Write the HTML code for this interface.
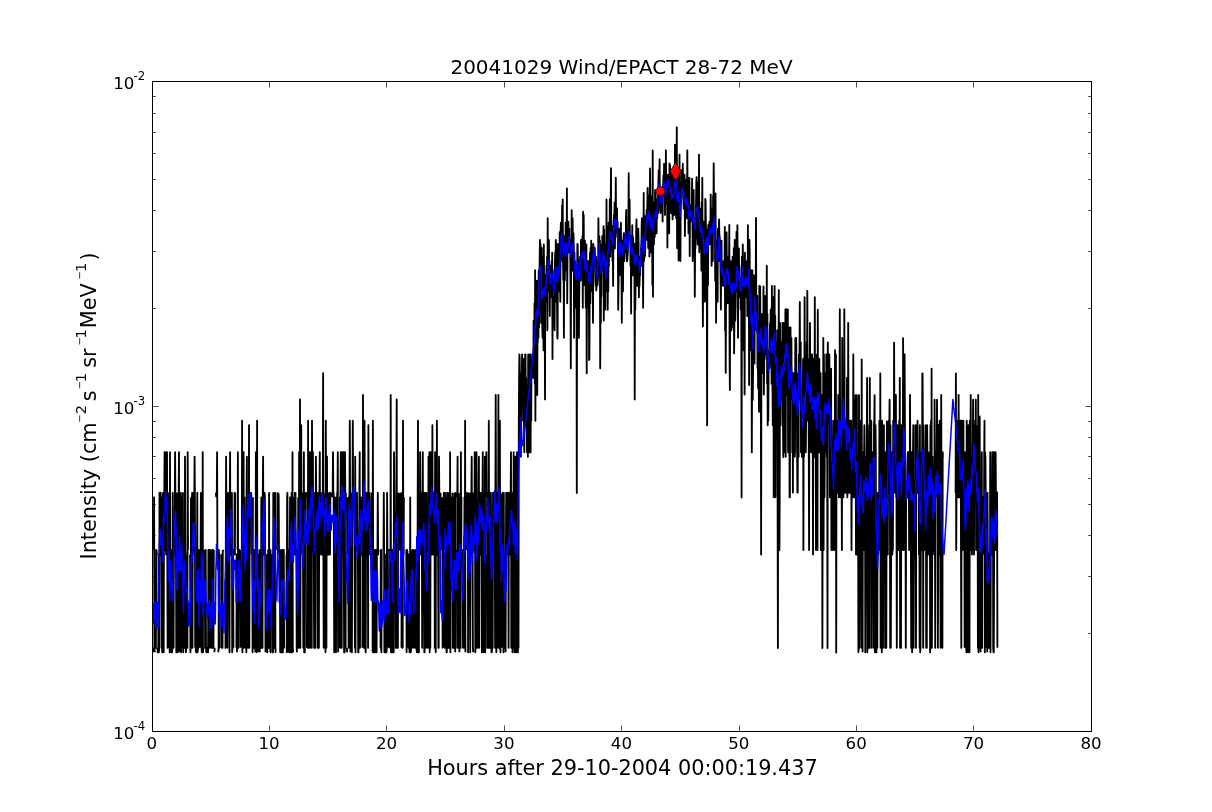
<!DOCTYPE html>
<html><head><meta charset="utf-8"><title>20041029 Wind/EPACT 28-72 MeV</title>
<style>html,body{margin:0;padding:0;background:#fff;}svg{display:block;will-change:transform;font-family:"DejaVu Sans","Liberation Sans",sans-serif;}</style></head><body>
<svg width="1212" height="812" viewBox="0 0 1212 812">
<rect width="1212" height="812" fill="#fff"/>
<clipPath id="c"><rect x="152" y="81" width="940" height="651"/></clipPath>
<g clip-path="url(#c)" fill="none" stroke-linejoin="round" stroke-linecap="butt">
<path d="M152.0 652.3L152.3 652.3L152.6 647.8L152.9 647.8L153.2 652.3M153.8 550.0L154.1 497.3L154.4 647.8L154.7 652.3M155.3 647.8L155.6 647.8L155.9 647.8L156.2 550.0L156.5 550.0L156.8 554.5M157.4 647.8L157.7 652.3L158.0 652.3L158.3 647.8L158.6 554.5L158.9 652.3L159.2 647.8L159.5 492.8L159.8 550.0L160.1 492.8L160.4 554.5L160.7 492.8L161.0 554.5L161.3 497.3L161.6 647.8L161.9 647.8L162.2 652.3L162.5 550.0L162.8 497.3L163.1 492.8L163.4 647.8L163.7 652.3L164.0 492.8L164.3 492.8L164.6 452.2L164.9 550.0L165.2 550.0L165.5 550.0L165.8 452.2L166.1 554.5L166.4 492.8L166.7 492.8L167.0 452.2L167.3 554.5L167.6 647.8L167.9 497.3L168.2 492.8M169.1 647.8L169.4 492.8L169.7 652.3L170.0 452.2L170.3 647.8L170.6 550.0M171.2 550.0L171.5 652.3L171.8 550.0L172.1 652.3L172.4 647.8L172.7 492.8L173.0 647.8L173.3 647.8L173.6 647.8L173.9 550.0L174.2 554.5L174.5 554.5L174.8 497.3L175.1 452.2L175.4 497.3L175.7 492.8L176.0 554.5L176.3 652.3L176.6 492.8M177.2 647.8L177.5 647.8L177.8 652.3L178.1 647.8L178.4 492.8L178.7 497.3L179.0 452.2L179.3 652.3M179.9 647.8L180.2 647.8L180.5 492.8L180.8 492.8L181.1 652.3L181.4 550.0L181.7 497.3L182.0 550.0M182.6 647.8L182.9 492.8L183.2 652.3L183.5 550.0M184.1 647.8L184.4 550.0L184.7 647.8L185.0 456.7L185.3 550.0L185.6 554.5L185.9 652.3L186.2 647.8M186.8 647.8L187.1 647.8L187.4 647.8L187.7 452.2L188.0 550.0L188.3 550.0M190.1 554.5L190.4 652.3L190.7 647.8L191.0 497.3M191.6 550.0L191.9 497.3L192.2 492.8L192.5 647.8L192.8 492.8M193.4 554.5L193.7 550.0L194.0 492.8L194.3 492.8L194.6 456.7L194.9 497.3L195.2 647.8M195.8 652.3L196.1 554.5L196.4 652.3L196.7 652.3L197.0 550.0L197.3 492.8L197.6 652.3L197.9 647.8L198.2 550.0L198.5 647.8L198.8 550.0L199.1 554.5L199.4 647.8M200.3 647.8L200.6 554.5L200.9 492.8L201.2 492.8L201.5 647.8L201.8 652.3L202.1 652.3L202.4 647.8L202.7 452.2L203.0 652.3L203.3 647.8L203.6 647.8M204.2 550.0L204.5 554.5L204.8 554.5L205.1 647.8L205.4 550.0L205.7 550.0L206.0 647.8L206.3 652.3L206.6 647.8L206.9 647.8L207.2 647.8L207.5 647.8L207.8 652.3L208.1 652.3L208.4 550.0L208.7 647.8L209.0 550.0L209.3 647.8L209.6 647.8L209.9 647.8L210.2 550.0L210.5 647.8M211.4 550.0L211.7 647.8L212.0 647.8L212.3 550.0L212.6 554.5L212.9 647.8L213.2 550.0L213.5 647.8L213.8 550.0M214.4 652.3L214.7 647.8M215.9 492.8L216.2 497.3M216.8 492.8L217.1 452.2L217.4 554.5L217.7 550.0M218.3 652.3L218.6 647.8L218.9 550.0L219.2 647.8L219.5 554.5L219.8 647.8L220.1 647.8M221.6 554.5L221.9 647.8L222.2 554.5L222.5 647.8L222.8 550.0M223.7 550.0L224.0 550.0M224.6 647.8L224.9 647.8L225.2 647.8L225.5 647.8L225.8 550.0L226.1 456.7L226.5 554.5L226.8 492.8L227.1 550.0L227.4 647.8L227.7 492.8L228.0 554.5L228.3 550.0L228.6 492.8M229.2 554.5L229.5 652.3L229.8 492.8L230.1 452.2L230.4 554.5L230.7 554.5L231.0 554.5L231.3 492.8L231.6 492.8L231.9 492.8L232.2 652.3L232.5 647.8L232.8 647.8L233.1 550.0L233.4 647.8M234.0 550.0L234.3 550.0L234.6 492.8L234.9 554.5L235.2 492.8M236.4 647.8L236.7 554.5L237.0 652.3M237.6 550.0L237.9 452.2L238.2 647.8L238.5 647.8L238.8 550.0L239.1 550.0L239.4 550.0L239.7 554.5M240.3 550.0L240.6 647.8M241.8 550.0L242.1 420.7L242.4 652.3L242.7 554.5L243.0 550.0L243.3 497.3L243.6 452.2L243.9 647.8L244.2 497.3L244.5 497.3L244.8 550.0M245.4 550.0L245.7 647.8L246.0 550.0L246.3 652.3L246.6 492.8L246.9 456.7L247.2 647.8L247.5 497.3L247.8 492.8L248.1 497.3L248.4 492.8L248.7 647.8L249.0 425.2L249.3 647.8L249.6 554.5L249.9 492.8L250.2 492.8L250.5 497.3L250.8 492.8L251.1 492.8L251.4 497.3L251.7 554.5M252.3 554.5L252.6 652.3L252.9 497.3M253.5 647.8L253.8 550.0L254.1 647.8L254.4 647.8L254.7 554.5M255.3 652.3L255.6 554.5L255.9 452.2L256.2 647.8L256.5 652.3L256.8 554.5L257.1 420.7L257.4 647.8L257.7 554.5L258.0 652.3M259.2 550.0L259.5 550.0L259.8 652.3M260.4 550.0L260.7 647.8L261.0 647.8L261.3 497.3L261.6 647.8L261.9 554.5L262.2 550.0L262.5 647.8L262.8 492.8L263.1 456.7L263.4 554.5L263.7 492.8L264.0 554.5L264.3 497.3L264.6 492.8L264.9 497.3L265.2 554.5L265.5 652.3M266.1 652.3L266.4 554.5M267.0 647.8L267.3 652.3L267.6 554.5L267.9 647.8L268.2 550.0L268.5 647.8L268.8 647.8L269.1 492.8L269.4 647.8M270.0 652.3L270.3 652.3L270.6 550.0L270.9 550.0L271.2 550.0M272.1 554.5L272.4 652.3L272.7 554.5L273.0 652.3L273.3 492.8L273.6 497.3L273.9 497.3L274.2 647.8L274.5 492.8L274.8 497.3L275.1 492.8L275.4 647.8L275.7 652.3L276.0 652.3M277.2 550.0L277.5 492.8L277.8 492.8M278.4 492.8L278.7 497.3L279.0 554.5M279.9 550.0L280.2 652.3L280.5 647.8L280.8 550.0L281.1 554.5L281.4 652.3L281.7 652.3L282.0 647.8L282.3 554.5L282.6 550.0L282.9 652.3L283.2 550.0L283.5 550.0L283.8 550.0L284.1 647.8L284.4 647.8M285.0 647.8L285.3 647.8M286.5 554.5L286.8 652.3L287.1 497.3L287.4 492.8L287.7 550.0M288.3 652.3L288.6 550.0L288.9 647.8L289.2 652.3L289.5 550.0L289.8 554.5L290.1 497.3L290.4 550.0L290.7 554.5L291.0 652.3L291.3 550.0L291.6 492.8L291.9 492.8L292.2 652.3L292.5 452.2L292.8 647.8L293.1 652.3M293.7 497.3L294.0 554.5L294.3 550.0L294.6 554.5L294.9 492.8L295.2 492.8L295.5 492.8L295.8 554.5L296.1 550.0L296.4 554.5L296.7 647.8L297.0 652.3M297.6 550.0L297.9 647.8L298.2 497.3M298.8 647.8L299.1 452.2L299.4 647.8L299.7 554.5L300.0 399.5L300.3 647.8L300.6 554.5L300.9 550.0L301.2 425.2L301.5 550.0M302.4 492.8L302.7 550.0L303.0 550.0L303.3 647.8L303.6 550.0L303.9 452.2L304.2 652.3L304.5 497.3L304.8 652.3L305.1 550.0L305.4 492.8L305.7 492.8L306.0 497.3L306.3 492.8M306.9 647.8L307.2 554.5L307.5 492.8L307.8 647.8L308.1 420.7L308.4 647.8L308.7 554.5L309.0 497.3L309.3 550.0L309.6 452.2L309.9 647.8L310.2 554.5L310.5 497.3L310.8 550.0L311.1 452.2L311.4 497.3L311.7 647.8L312.0 420.7L312.3 497.3L312.6 550.0L312.9 452.2L313.2 550.0L313.5 497.3L313.8 554.5L314.1 647.8L314.4 647.8L314.7 550.0L315.0 492.8L315.3 647.8L315.6 554.5L315.9 456.7L316.2 497.3L316.5 497.3L316.8 492.8M317.4 492.8L317.7 647.8L318.0 492.8L318.3 492.8L318.6 492.8L318.9 647.8L319.2 492.8L319.5 492.8L319.8 452.2L320.1 550.0L320.4 492.8L320.7 492.8L321.0 554.5L321.3 550.0L321.6 550.0L321.9 554.5L322.2 554.5L322.5 497.3L322.8 492.8L323.1 373.2L323.4 550.0L323.7 647.8L324.0 550.0L324.3 554.5M324.9 492.8L325.2 492.8L325.5 652.3L325.8 420.7L326.1 497.3L326.4 647.8L326.7 492.8L327.0 456.7L327.3 550.0M327.9 492.8L328.2 554.5L328.5 497.3L328.8 554.5L329.1 497.3L329.4 492.8L329.7 554.5L330.0 554.5L330.3 497.3L330.6 492.8L330.9 492.8L331.2 492.8M331.8 497.3L332.1 492.8M332.7 492.8L333.0 452.2L333.3 492.8L333.6 492.8L333.9 550.0L334.2 652.3L334.5 550.0L334.8 497.3L335.1 550.0L335.4 554.5L335.7 550.0L336.0 652.3L336.3 550.0L336.6 497.3L336.9 554.5L337.2 492.8L337.5 492.8L337.8 452.2L338.1 652.3M339.6 647.8L339.9 497.3L340.2 647.8L340.5 492.8L340.8 452.2L341.1 497.3L341.4 452.2L341.7 647.8L342.0 452.2L342.3 550.0L342.6 554.5L342.9 452.2L343.2 497.3L343.5 452.2L343.8 550.0L344.1 652.3L344.4 452.2L344.7 652.3L345.0 452.2L345.3 497.3L345.6 647.8L345.9 492.8L346.2 492.8M346.8 647.8L347.1 652.3M347.7 497.3L348.0 554.5L348.3 554.5L348.6 647.8L348.9 550.0L349.2 497.3L349.5 492.8L349.8 420.7L350.1 497.3L350.4 652.3M351.0 492.8L351.3 554.5L351.6 497.3L351.9 652.3L352.2 550.0L352.5 497.3L352.8 420.7L353.1 492.8L353.4 492.8L353.7 492.8L354.0 492.8L354.3 497.3L354.6 554.5L354.9 647.8L355.2 456.7L355.5 652.3L355.8 554.5M356.4 550.0L356.7 492.8L357.0 492.8L357.3 550.0L357.6 550.0L357.9 550.0L358.2 652.3L358.5 652.3L358.8 550.0L359.1 550.0L359.4 492.8L359.7 452.2L360.0 647.8L360.3 550.0L360.6 497.3L360.9 497.3L361.2 550.0L361.5 554.5L361.8 497.3M362.4 647.8L362.7 550.0L363.0 395.0L363.3 550.0L363.6 492.8L363.9 647.8L364.2 492.8L364.5 420.7L364.8 497.3L365.1 497.3L365.4 647.8L365.7 652.3L366.0 550.0L366.3 550.0L366.6 492.8L366.9 554.5L367.2 497.3L367.5 497.3L367.8 492.8L368.1 647.8L368.4 425.2L368.7 554.5L369.0 554.5L369.3 492.8L369.6 497.3L369.9 550.0M370.5 492.8L370.8 492.8M371.4 550.0L371.7 492.8M372.6 652.3L372.9 420.7L373.2 652.3L373.5 647.8L373.8 652.3L374.1 550.0L374.4 647.8L374.8 647.8L375.1 652.3L375.4 554.5L375.7 550.0L376.0 647.8L376.3 550.0L376.6 652.3L376.9 554.5M377.5 550.0L377.8 492.8L378.1 554.5L378.4 550.0M380.5 647.8L380.8 550.0L381.1 647.8L381.4 652.3L381.7 550.0L382.0 550.0M383.5 550.0L383.8 492.8L384.1 550.0L384.4 652.3L384.7 647.8L385.0 554.5L385.3 652.3L385.6 647.8M386.2 647.8L386.5 652.3L386.8 647.8L387.1 492.8L387.4 550.0L387.7 647.8M388.3 550.0L388.6 550.0M389.2 647.8L389.5 550.0L389.8 554.5L390.1 647.8L390.4 647.8L390.7 395.0L391.0 652.3L391.3 554.5L391.6 647.8L391.9 647.8L392.2 652.3L392.5 550.0L392.8 647.8L393.1 652.3L393.4 550.0L393.7 652.3L394.0 452.2L394.3 492.8L394.6 550.0L394.9 550.0M395.5 550.0L395.8 647.8L396.1 550.0L396.4 492.8L396.7 399.5L397.0 647.8L397.3 497.3L397.6 550.0L397.9 647.8L398.2 492.8M399.7 492.8L400.0 550.0L400.3 550.0L400.6 492.8M401.5 647.8L401.8 492.8L402.1 492.8L402.4 647.8L402.7 647.8L403.0 420.7L403.3 550.0L403.6 554.5L403.9 497.3M405.7 550.0L406.0 550.0L406.3 550.0L406.6 652.3L406.9 554.5L407.2 550.0L407.5 554.5M408.1 647.8L408.4 554.5L408.7 647.8L409.0 647.8L409.3 647.8L409.6 652.3L409.9 647.8L410.2 497.3L410.5 647.8L410.8 652.3L411.1 647.8L411.4 647.8L411.7 554.5L412.0 554.5L412.3 550.0L412.6 550.0L412.9 647.8L413.2 550.0L413.5 554.5L413.8 647.8M414.7 550.0L415.0 647.8L415.3 550.0L415.6 554.5L415.9 550.0L416.2 550.0L416.5 647.8L416.8 652.3L417.1 550.0L417.4 647.8L417.7 497.3L418.0 420.7L418.3 652.3L418.6 652.3L418.9 652.3L419.2 492.8M419.8 554.5L420.1 452.2L420.4 492.8L420.7 554.5L421.0 492.8L421.3 554.5M421.9 550.0L422.2 647.8L422.5 554.5L422.8 452.2L423.1 550.0L423.4 497.3L423.7 492.8L424.0 550.0L424.3 652.3L424.6 652.3L424.9 492.8L425.2 647.8L425.5 550.0L425.8 647.8L426.1 647.8L426.4 492.8L426.7 554.5L427.0 647.8M427.6 554.5L427.9 647.8L428.2 550.0L428.5 456.7L428.8 554.5L429.1 554.5L429.4 452.2L429.7 652.3L430.0 492.8L430.3 647.8L430.6 492.8L430.9 452.2L431.2 492.8L431.5 492.8L431.8 554.5L432.1 550.0L432.4 425.2L432.7 550.0L433.0 492.8L433.3 554.5L433.6 550.0L433.9 492.8L434.2 550.0L434.5 497.3L434.8 647.8L435.1 452.2L435.4 497.3L435.7 652.3L436.0 492.8L436.3 497.3L436.6 554.5L436.9 420.7L437.2 554.5L437.5 497.3L437.8 550.0L438.1 550.0L438.4 647.8L438.7 647.8L439.0 456.7L439.3 492.8L439.6 550.0L439.9 550.0M440.5 492.8L440.8 550.0L441.1 550.0M442.3 497.3L442.6 647.8L442.9 647.8M443.5 647.8L443.8 492.8L444.1 550.0L444.4 492.8L444.7 647.8L445.0 492.8L445.3 647.8L445.6 550.0L445.9 554.5L446.2 497.3L446.5 652.3L446.8 652.3L447.1 492.8L447.4 492.8L447.7 492.8L448.0 647.8L448.3 554.5L448.6 647.8L448.9 492.8L449.2 554.5L449.5 492.8L449.8 647.8L450.1 452.2L450.4 652.3L450.7 550.0L451.0 497.3L451.3 550.0M452.5 492.8L452.8 647.8L453.1 550.0L453.4 647.8L453.7 497.3L454.0 647.8L454.3 550.0L454.6 492.8M455.2 652.3L455.5 492.8L455.8 647.8L456.1 550.0M457.3 497.3L457.6 456.7L457.9 647.8L458.2 647.8L458.5 550.0L458.8 492.8M459.4 652.3L459.7 550.0L460.0 497.3L460.3 550.0L460.6 647.8L460.9 452.2L461.2 554.5L461.5 497.3M462.4 550.0L462.7 550.0L463.0 647.8L463.3 647.8L463.6 550.0L463.9 550.0L464.2 550.0L464.5 497.3L464.8 647.8L465.1 420.7L465.4 652.3M466.0 497.3L466.3 492.8L466.6 497.3L466.9 550.0M467.5 492.8L467.8 492.8L468.1 652.3L468.4 554.5L468.7 492.8M469.6 492.8L469.9 497.3L470.2 652.3L470.5 554.5L470.8 497.3M471.4 497.3L471.7 456.7L472.0 554.5L472.3 492.8L472.6 550.0L472.9 647.8L473.2 652.3M473.8 492.8L474.1 497.3L474.4 550.0L474.7 452.2L475.0 492.8L475.3 652.3L475.6 647.8L475.9 647.8L476.2 492.8L476.5 452.2L476.8 550.0L477.1 554.5L477.4 647.8L477.7 647.8L478.0 550.0L478.3 550.0L478.6 492.8L478.9 456.7L479.2 647.8L479.5 492.8L479.8 492.8L480.1 550.0L480.4 492.8L480.7 492.8L481.0 554.5L481.3 554.5L481.6 550.0L481.9 652.3L482.2 492.8L482.5 492.8L482.8 452.2L483.1 550.0L483.4 652.3L483.7 497.3L484.0 492.8L484.3 647.8L484.6 647.8L484.9 456.7L485.2 652.3L485.5 554.5M486.1 497.3L486.4 452.2L486.7 492.8L487.0 492.8L487.3 647.8L487.6 492.8L487.9 497.3L488.2 550.0L488.5 647.8L488.8 420.7L489.1 550.0L489.4 647.8L489.7 497.3L490.0 554.5L490.3 492.8L490.6 647.8L490.9 492.8L491.2 550.0L491.5 652.3L491.8 652.3L492.1 647.8L492.4 647.8L492.7 647.8L493.0 492.8L493.3 492.8L493.6 492.8L493.9 492.8L494.2 550.0L494.5 492.8L494.8 550.0L495.1 647.8L495.4 492.8L495.7 395.0L496.0 497.3L496.3 652.3L496.6 647.8L496.9 647.8L497.2 492.8L497.5 497.3L497.8 497.3L498.1 554.5L498.4 395.0L498.7 647.8L499.0 497.3L499.3 647.8L499.6 492.8L499.9 420.7L500.2 647.8L500.5 652.3L500.8 492.8M502.0 647.8L502.3 554.5L502.6 497.3L502.9 492.8L503.2 550.0L503.5 652.3L503.8 492.8L504.1 647.8L504.4 647.8L504.7 647.8L505.0 554.5M505.6 652.3L505.9 550.0L506.2 492.8L506.5 554.5L506.8 554.5M507.4 550.0L507.7 492.8L508.0 550.0L508.3 554.5L508.6 647.8L508.9 497.3L509.2 492.8L509.5 554.5M510.1 497.3L510.4 554.5L510.7 492.8L511.0 452.2L511.3 647.8L511.6 497.3L511.9 492.8L512.2 497.3L512.5 652.3L512.8 497.3L513.1 647.8L513.4 550.0L513.7 452.2L514.0 647.8L514.3 550.0L514.6 652.3L514.9 492.8L515.2 647.8L515.5 456.7L515.8 492.8L516.1 652.3L516.4 652.3L516.7 647.8L517.0 452.2L517.3 550.0L517.6 550.0L517.9 652.3L518.2 492.8L518.5 647.8L518.8 425.2L519.1 377.8L519.4 354.4L519.7 358.9L520.0 420.7L520.3 373.2L520.6 420.7L520.9 456.7L521.2 377.8L521.5 395.0L521.8 373.2L522.1 354.4L522.4 377.8L522.7 373.2L523.1 420.7L523.4 358.9L523.7 395.0L524.0 420.7L524.3 452.2L524.6 395.0L524.9 377.8L525.2 354.4L525.5 354.4L525.8 425.2L526.1 377.8L526.4 399.5L526.7 395.0L527.0 452.2L527.3 452.2L527.6 399.5L527.9 456.7L528.2 354.4L528.5 395.0L528.8 452.2L529.1 452.2L529.4 452.2L529.7 425.2L530.0 354.4L530.3 354.4L530.6 452.2L530.9 354.4L531.2 420.7L531.5 358.9L531.8 358.9L532.1 358.9L532.4 373.2L532.7 373.2L533.0 354.4L533.3 377.8L533.6 320.6L533.9 368.0L534.2 350.4L534.5 303.2L534.8 383.7L535.1 270.2L535.4 420.7L535.7 316.0L536.0 285.1L536.3 377.8L536.6 291.4L536.9 280.6L537.2 395.0L537.5 330.2L537.8 342.3L538.1 297.2L538.4 337.8L538.7 270.5L539.0 327.4L539.3 280.6L539.6 265.6L539.9 240.0L540.2 252.6L540.5 244.0L540.8 285.9L541.1 322.9L541.4 285.9L541.7 248.0L542.0 291.4L542.3 327.4L542.6 337.8L542.9 303.2L543.2 256.8L543.5 350.4L543.8 244.5L544.1 280.6L544.4 322.9L544.7 303.2L545.0 399.4L545.3 275.4L545.6 291.4L545.9 291.4L546.2 285.9L546.5 265.7L546.8 301.7L547.1 256.6L547.4 330.2L547.7 218.2L548.0 290.4L548.3 256.6L548.6 261.1L548.9 240.0L549.2 290.4L549.5 280.6L549.8 316.0L550.1 265.7L550.4 275.0L550.7 280.0L551.0 275.4L551.3 297.2L551.6 261.1L551.9 275.4L552.2 252.6L552.5 359.0L552.8 270.5L553.1 309.5L553.4 280.6L553.7 280.6L554.0 296.0L554.3 297.2L554.6 330.2L554.9 265.7L555.2 252.3L555.5 280.6L555.8 240.0L556.1 244.5L556.4 301.7L556.7 290.4L557.0 297.2L557.3 337.8L557.6 338.6L557.9 244.0L558.2 275.4L558.5 270.2L558.8 285.1L559.1 291.4L559.4 275.4L559.7 232.3L560.0 275.4L560.3 301.7L560.6 232.3L560.9 222.7L561.2 256.8L561.5 233.2L561.8 232.3L562.1 205.4L562.4 261.1L562.7 199.5L563.0 261.1L563.3 280.0L563.6 252.6L563.9 337.7L564.2 236.1L564.5 244.5L564.8 280.6L565.1 240.6L565.4 244.5L565.7 222.7L566.0 240.0L566.3 233.2L566.6 270.5L566.9 188.3L567.2 303.2L567.5 252.3L567.8 248.5L568.1 226.1L568.4 221.6L568.7 252.3L569.0 236.1L569.3 228.7L569.6 252.3L569.9 240.0L570.2 248.0L570.5 285.1L570.8 368.3L571.1 252.6L571.4 261.1L571.7 210.2L572.0 261.1L572.3 270.5L572.6 218.2L572.9 252.3L573.2 236.1L573.5 233.2L573.8 252.6L574.1 337.7L574.4 252.3L574.7 270.2L575.0 261.1L575.3 285.1L575.6 280.0L575.9 307.7L576.2 275.0L576.5 265.6L576.8 493.0L577.1 275.4L577.4 244.0L577.7 244.5L578.0 265.7L578.3 270.5L578.6 270.2L578.9 337.8L579.2 296.0L579.5 261.1L579.8 265.7L580.1 256.6L580.4 275.4L580.7 280.6L581.0 240.0L581.3 240.0L581.6 252.3L581.9 270.2L582.2 261.1L582.5 236.1L582.8 307.7L583.1 211.7L583.4 270.2L583.7 214.9L584.0 285.1L584.3 280.0L584.6 261.1L584.9 240.6L585.2 248.5L585.5 275.0L585.8 307.7L586.1 256.6L586.4 244.5L586.7 373.3L587.0 265.7L587.3 307.7L587.6 270.2L587.9 261.1L588.2 275.4L588.5 270.5L588.8 261.1L589.1 360.0L589.4 358.9L589.7 290.4L590.0 252.6L590.3 303.2L590.6 248.0L590.9 291.4L591.2 240.6L591.5 252.3L591.8 290.4L592.1 261.1L592.4 285.9L592.7 280.0L593.0 322.8L593.3 244.0L593.6 248.0L593.9 252.3L594.2 261.1L594.5 256.6L594.8 248.0L595.1 265.7L595.4 280.0L595.7 285.9L596.0 256.6L596.3 290.4L596.6 285.1L596.9 261.1L597.2 270.5L597.5 285.1L597.8 280.6L598.1 275.4L598.4 218.2L598.7 261.1L599.0 270.2L599.3 236.1L599.6 265.7L599.9 240.6L600.2 368.3L600.5 297.2L600.8 322.9L601.1 275.4L601.4 296.0L601.7 244.5L602.0 265.7L602.3 236.1L602.6 270.5L602.9 252.3L603.2 270.5L603.5 226.1L603.8 320.6L604.1 229.6L604.4 261.1L604.7 244.5L605.0 265.7L605.3 309.5L605.6 252.6L605.9 252.3L606.2 280.6L606.5 199.5L606.8 291.4L607.1 226.1L607.4 240.0L607.7 309.8L608.0 256.8L608.3 291.4L608.6 222.7L608.9 265.7L609.2 225.1L609.5 256.6L609.8 199.4L610.1 244.5L610.4 256.6L610.7 205.4L611.0 168.1L611.3 248.0L611.6 236.1L611.9 236.1L612.2 226.1L612.5 261.1L612.8 236.9L613.1 285.9L613.4 232.3L613.7 222.7L614.0 214.9L614.3 218.2L614.6 202.4L614.9 248.5L615.2 228.7L615.5 214.9L615.8 177.8L616.1 226.1L616.4 232.3L616.7 218.2L617.0 208.5L617.3 236.9L617.6 221.6L617.9 248.5L618.2 309.8L618.5 285.9L618.8 270.5L619.1 228.7L619.4 240.6L619.7 275.0L620.0 256.6L620.3 248.5L620.6 233.2L620.9 222.7L621.2 265.7L621.5 270.5L621.8 322.8L622.1 270.2L622.4 240.6L622.7 248.0L623.0 291.4L623.3 248.0L623.6 236.9L623.9 233.2L624.2 261.1L624.5 240.0L624.8 236.1L625.1 236.9L625.4 240.0L625.7 252.6L626.0 216.2L626.3 209.9L626.6 256.6L626.9 261.1L627.2 261.1L627.5 256.6L627.8 252.6L628.1 236.1L628.4 229.6L628.7 173.1L629.0 236.9L629.3 236.9L629.6 199.4L629.9 240.6L630.2 236.1L630.5 265.6L630.8 236.1L631.1 313.5L631.4 244.5L631.7 270.5L632.0 248.5L632.3 225.1L632.6 275.4L632.9 236.9L633.2 240.0L633.5 275.0L633.8 270.5L634.1 261.1L634.4 244.0L634.7 399.4L635.0 244.0L635.3 309.5L635.6 275.4L635.9 280.6L636.2 228.7L636.5 219.4L636.8 256.8L637.1 285.9L637.4 270.5L637.7 270.5L638.0 270.5L638.3 228.7L638.6 244.0L638.9 297.2L639.2 261.1L639.5 285.9L639.8 270.2L640.1 275.4L640.4 256.8L640.7 265.6L641.0 248.0L641.3 265.7L641.6 229.6L641.9 218.2L642.2 229.6L642.5 225.1L642.8 248.0L643.1 307.7L643.4 248.0L643.7 193.0L644.0 261.1L644.3 232.3L644.6 236.1L644.9 256.8L645.2 252.6L645.5 216.2L645.8 232.3L646.1 219.4L646.4 219.4L646.7 209.9L647.0 240.0L647.3 206.9L647.6 188.0L647.9 213.0L648.2 248.0L648.5 195.4L648.8 219.4L649.1 198.1L649.4 256.6L649.7 209.9L650.0 168.5L650.3 199.4L650.6 248.0L650.9 203.9L651.2 252.6L651.5 196.5L651.8 206.9L652.1 226.1L652.4 285.1L652.7 150.5L653.0 296.8L653.3 202.4L653.6 226.1L653.9 244.5L654.2 226.1L654.5 202.4L654.8 236.9L655.1 189.9L655.4 195.4L655.7 228.7L656.0 209.9L656.3 233.2L656.6 233.2L656.9 199.4L657.2 218.2L657.5 199.4L657.8 192.6L658.1 213.0L658.4 180.2L658.7 170.1L659.0 198.1L659.3 179.7L659.6 159.2L659.9 202.4L660.2 211.7L660.5 213.0L660.8 208.5L661.1 187.3L661.4 196.5L661.7 208.5L662.0 196.5L662.3 201.0L662.6 221.6L662.9 189.9L663.2 182.2L663.5 175.1L663.8 188.1L664.1 163.8L664.4 174.8L664.7 175.1L665.0 214.9L665.3 180.2L665.6 203.9L665.9 150.3L666.2 188.1L666.5 192.6L666.8 182.8L667.1 182.2L667.4 247.6L667.7 185.4L668.0 174.8L668.3 189.9L668.6 175.1L668.9 185.4L669.2 233.2L669.5 163.3L669.8 185.4L670.1 165.5L670.4 193.6L670.7 205.4L671.0 213.0L671.4 196.5L671.7 192.6L672.0 170.3L672.3 201.0L672.6 219.4L672.9 185.4L673.2 205.4L673.5 205.4L673.8 182.8L674.1 177.6L674.4 214.9L674.7 188.1L675.0 144.7L675.3 179.7L675.6 150.5L675.9 154.4L676.2 218.2L676.5 167.8L676.8 127.3L677.1 248.0L677.4 184.7L677.7 211.7L678.0 201.0L678.3 199.4L678.6 260.6L678.9 177.6L679.2 199.4L679.5 154.6L679.8 252.3L680.1 182.8L680.4 261.1L680.7 205.4L681.0 202.4L681.3 196.5L681.6 170.3L681.9 192.6L682.2 193.6L682.5 180.2L682.8 163.8L683.1 187.3L683.4 199.4L683.7 208.5L684.0 177.6L684.3 208.5L684.6 174.8L684.9 236.1L685.2 213.0L685.5 195.4L685.8 218.2L686.1 180.2L686.4 199.4L686.7 211.7L687.0 218.2L687.3 150.3L687.6 195.4L687.9 209.9L688.2 187.3L688.5 233.2L688.8 233.2L689.1 206.9L689.4 177.8L689.7 256.0L690.0 205.4L690.3 209.9L690.6 221.6L690.9 205.4L691.2 214.9L691.5 211.7L691.8 211.7L692.1 178.7L692.4 202.4L692.7 261.1L693.0 219.4L693.3 244.0L693.6 189.9L693.9 221.6L694.2 221.6L694.5 225.1L694.8 296.8L695.1 248.0L695.4 248.5L695.7 236.1L696.0 206.9L696.3 182.8L696.6 177.2L696.9 213.0L697.2 218.2L697.5 236.9L697.8 244.5L698.1 189.9L698.4 182.2L698.7 211.7L699.0 154.6L699.3 252.3L699.6 232.3L699.9 216.2L700.2 244.0L700.5 228.7L700.8 208.5L701.1 236.1L701.4 270.5L701.7 202.4L702.0 236.1L702.3 177.8L702.6 265.6L702.9 326.5L703.2 261.1L703.5 240.6L703.8 221.6L704.1 248.0L704.4 244.5L704.7 275.0L705.0 301.7L705.3 199.0L705.6 202.4L705.9 225.1L706.2 233.2L706.5 248.0L706.8 261.1L707.1 425.2L707.4 229.6L707.7 240.0L708.0 285.1L708.3 225.1L708.6 229.6L708.9 244.5L709.2 225.1L709.5 221.6L709.8 228.7L710.1 244.0L710.4 228.7L710.7 194.5L711.0 218.2L711.3 208.5L711.6 265.7L711.9 232.3L712.2 228.7L712.5 226.1L712.8 261.1L713.1 195.4L713.4 221.6L713.7 163.5L714.0 205.4L714.3 228.7L714.6 216.2L714.9 225.1L715.2 280.6L715.5 193.5L715.8 256.6L716.1 322.8L716.4 240.0L716.7 261.1L717.0 261.1L717.3 280.0L717.6 301.7L717.9 228.7L718.2 240.0L718.5 261.1L718.8 236.1L719.1 219.4L719.4 240.0L719.7 236.1L720.0 244.5L720.3 256.6L720.6 280.6L720.9 309.5L721.2 256.8L721.5 240.6L721.8 280.0L722.1 285.1L722.4 265.7L722.7 265.7L723.0 285.9L723.3 285.1L723.6 261.1L723.9 280.6L724.2 265.7L724.5 275.4L724.8 227.0L725.1 330.2L725.4 240.6L725.7 372.7L726.0 309.5L726.3 261.1L726.6 232.3L726.9 270.2L727.2 291.4L727.5 265.7L727.8 303.2L728.1 265.7L728.4 256.6L728.7 270.5L729.0 265.7L729.3 225.0L729.6 360.0L729.9 390.0L730.2 285.1L730.5 291.4L730.8 285.1L731.1 261.1L731.4 330.2L731.7 320.6L732.0 275.0L732.3 290.4L732.6 256.8L732.9 314.0L733.2 285.1L733.5 327.4L733.8 248.0L734.1 353.4L734.4 320.6L734.7 240.0L735.0 301.7L735.3 320.6L735.6 303.2L735.9 275.0L736.2 291.4L736.5 231.6L736.8 248.0L737.1 280.6L737.4 225.1L737.7 270.5L738.0 337.8L738.3 285.9L738.6 275.0L738.9 248.5L739.2 280.0L739.5 265.7L739.8 280.6L740.1 297.2L740.4 280.0L740.7 309.5L741.0 303.2L741.3 309.5L741.6 497.4L741.9 256.8L742.2 316.0L742.5 275.0L742.8 244.5L743.1 270.5L743.4 270.2L743.7 350.4L744.0 297.2L744.3 270.5L744.6 394.5L744.9 252.6L745.2 291.4L745.5 280.6L745.8 297.2L746.1 275.4L746.4 280.6L746.7 261.1L747.0 265.6L747.3 316.0L747.6 307.7L747.9 225.1L748.2 270.5L748.5 303.2L748.8 261.1L749.1 385.0L749.4 240.0L749.7 252.6L750.0 330.2L750.3 337.8L750.6 350.4L750.9 316.0L751.2 270.2L751.5 280.6L751.8 452.4L752.1 373.2L752.4 270.5L752.7 400.0L753.0 377.8L753.3 345.8L753.6 275.4L753.9 275.4L754.2 285.9L754.5 363.5L754.8 297.2L755.1 297.2L755.4 275.4L755.7 303.2L756.0 218.0L756.3 327.4L756.6 330.2L756.9 307.7L757.2 296.0L757.5 368.0L757.8 330.2L758.1 388.2L758.4 327.4L758.7 377.8L759.0 411.8L759.3 285.9L759.6 330.2L759.9 330.2L760.2 286.5L760.5 395.0L760.8 337.8L761.1 554.5L761.4 345.8L761.7 330.2L762.0 314.0L762.3 373.2L762.6 354.4L762.9 330.2L763.2 354.4L763.5 286.5L763.8 394.5L764.1 373.2L764.4 342.3L764.7 330.2L765.0 354.4L765.3 296.0L765.6 354.4L765.9 309.5L766.2 309.5L766.5 358.9L766.8 265.8L767.1 383.7L767.4 314.0L767.7 425.2L768.0 368.0L768.3 420.8L768.6 368.0L768.9 368.0L769.2 350.4L769.5 368.0L769.8 330.2L770.1 322.9L770.4 342.3L770.7 309.4L771.0 363.5L771.3 316.0L771.6 383.7L771.9 285.9L772.2 358.9L772.5 388.2L772.8 425.2L773.1 358.9L773.4 297.2L773.7 497.0L774.0 327.4L774.3 497.4L774.6 285.9L774.9 435.6L775.2 316.0L775.5 497.0L775.8 345.8L776.1 435.6L776.4 363.5L776.7 342.3L777.0 373.2L777.3 330.2L777.6 492.8L777.9 648.0L778.2 425.2L778.5 373.2L778.8 290.2L779.1 492.8L779.4 550.0L779.7 492.8L780.0 322.9L780.3 395.0L780.6 425.2L780.9 395.0L781.2 342.3L781.5 373.2L781.8 354.4L782.1 399.5L782.4 323.0L782.7 373.2L783.0 425.2L783.3 457.0L783.6 323.0L783.9 342.3L784.2 452.2L784.5 323.0L784.8 342.3L785.1 373.2L785.4 309.4L785.7 456.7L786.0 342.3L786.3 395.0L786.6 309.3L786.9 309.4L787.2 395.0L787.5 337.8L787.8 309.4L788.1 452.2L788.4 354.4L788.7 452.2L789.0 327.4L789.3 395.0L789.6 497.4L789.9 497.0L790.2 337.8L790.5 327.4L790.8 358.9L791.1 373.2L791.4 337.8L791.7 399.5L792.0 377.8L792.3 452.2L792.6 373.2L792.9 492.5L793.2 373.2L793.5 399.5L793.8 399.5L794.1 373.2L794.4 373.2L794.7 456.7L795.0 452.2L795.3 338.5L795.6 420.7L795.9 354.4L796.2 337.8L796.5 395.0L796.8 395.0L797.1 452.2L797.4 492.5L797.7 492.5L798.0 399.5L798.3 373.2L798.6 456.7L798.9 354.4L799.2 354.4L799.5 354.4L799.8 301.9L800.1 373.2L800.4 399.5L800.7 342.3L801.0 452.2L801.3 452.2L801.6 399.5L801.9 456.7L802.2 399.5L802.5 456.7L802.8 395.0L803.1 358.9L803.4 550.0L803.7 377.8L804.0 456.7L804.3 420.7L804.6 297.1L804.9 399.5L805.2 452.2L805.5 452.2L805.8 452.2L806.1 420.7L806.4 399.5L806.7 342.3L807.0 399.5L807.3 290.8L807.6 373.2L807.9 420.7L808.2 377.8L808.5 377.8L808.8 456.7L809.1 550.0L809.4 358.9L809.7 373.2L810.0 323.0L810.3 425.2L810.6 373.2L810.9 420.7L811.2 452.2L811.5 452.2L811.8 354.4L812.1 354.4L812.4 399.5L812.7 395.0L813.0 554.5L813.3 399.5L813.6 358.9L813.9 456.7L814.2 399.5L814.5 456.7L814.8 297.1L815.1 420.7L815.4 452.2L815.7 425.2L816.0 550.0L816.3 452.2L816.6 377.8L816.9 354.4L817.2 395.0L817.5 550.0L817.8 309.7L818.1 452.2L818.4 420.7L818.7 373.2L819.0 452.2L819.3 358.9L819.7 399.5L820.0 452.2L820.3 425.2L820.6 373.2L820.9 550.0L821.2 395.0L821.5 395.0L821.8 420.7L822.1 420.7L822.4 648.0L822.7 452.2L823.0 497.3L823.3 338.0L823.6 550.0L823.9 354.4L824.2 452.2L824.5 497.3L824.8 452.2L825.1 395.0L825.4 373.2L825.7 373.2L826.0 452.2L826.3 354.3L826.6 399.5L826.9 456.7L827.2 425.2L827.5 648.0L827.8 342.3L828.1 395.0L828.4 420.7L828.7 425.2L829.0 373.2L829.3 354.4L829.6 395.0L829.9 497.3L830.2 452.2L830.5 399.5L830.8 456.7L831.1 368.7L831.4 550.0L831.7 420.7L832.0 456.7L832.3 497.3L832.6 497.3L832.9 550.0L833.2 456.7L833.5 492.8L833.8 420.7L834.1 492.8L834.4 492.8L834.7 550.0L835.0 350.2L835.3 497.3L835.6 452.2L835.9 354.4L836.2 652.5L836.5 420.7L836.8 456.7L837.1 425.2L837.4 492.8L837.7 456.7L838.0 452.2L838.3 395.0L838.6 425.2L838.9 497.3L839.2 492.8L839.5 425.2L839.8 309.3L840.1 420.7L840.4 497.3L840.7 452.2L841.0 497.3L841.3 452.2L841.6 452.2L841.9 550.0L842.2 338.0L842.5 452.2L842.8 373.2L843.1 373.2L843.4 497.3L843.7 456.7L844.0 492.8L844.3 309.3L844.6 420.7L844.9 456.7L845.2 420.7L845.5 492.8L845.8 420.7L846.1 452.2L846.4 425.2L846.7 452.2L847.0 377.8L847.3 497.3L847.6 492.8L847.9 492.8L848.2 323.0L848.5 456.7L848.8 452.2L849.1 420.7L849.4 492.8L849.7 456.7L850.0 492.8L850.3 420.7L850.6 420.7L850.9 492.8L851.2 420.7L851.5 550.0L851.8 452.2L852.1 492.8L852.4 456.7L852.7 492.8L853.0 497.3L853.3 354.3L853.6 456.7L853.9 399.5L854.2 456.7L854.5 497.3L854.8 497.3L855.1 456.7L855.4 395.1L855.7 420.7L856.0 554.5L856.3 497.3L856.6 550.0L856.9 395.1L857.2 554.5L857.5 456.7L857.8 554.5L858.1 497.3L858.4 652.3L858.7 647.8L859.0 395.1L859.3 647.8L859.6 550.0L859.9 420.7L860.2 492.8L860.5 452.2L860.8 492.8L861.1 497.3L861.4 647.8L861.7 359.5L862.0 554.5M862.6 652.3L862.9 456.7L863.2 452.2L863.5 550.0L863.8 550.0L864.1 456.7L864.4 425.2L864.7 456.7L865.0 456.7L865.3 652.3L865.6 554.5L865.9 456.7L866.2 492.8L866.5 550.0L866.8 452.2L867.1 378.0L867.4 652.3L867.7 492.8L868.0 497.3L868.3 647.8L868.6 554.5L868.9 456.7L869.2 425.2L869.5 647.8L869.8 378.0L870.1 492.8L870.4 554.5L870.7 497.3L871.0 452.2L871.3 420.7L871.6 647.8L871.9 554.5L872.2 497.3L872.5 497.3L872.8 452.2L873.1 452.2L873.4 452.2L873.7 647.8L874.0 425.2L874.3 420.7L874.6 395.1L874.9 652.3L875.2 456.7L875.5 425.2L875.8 452.2L876.1 647.8L876.4 652.3L876.7 554.5L877.0 550.0L877.3 647.8L877.6 492.8L877.9 554.5L878.2 554.5L878.5 492.8M879.1 550.0L879.4 420.7L879.7 492.8L880.0 550.0L880.3 373.4L880.6 647.8L880.9 497.3L881.2 420.7L881.5 497.3L881.8 652.3L882.1 420.7L882.4 497.3L882.7 647.8L883.0 647.8L883.3 452.2L883.6 550.0L883.9 425.2L884.2 550.0L884.5 492.8L884.8 492.8L885.1 647.8L885.4 452.2L885.7 452.2L886.0 554.5L886.3 647.8L886.6 492.8L886.9 420.7M887.5 420.7L887.8 554.5L888.1 456.7L888.4 492.8L888.7 420.7L889.0 420.7L889.3 425.2L889.6 399.7L889.9 452.2L890.2 647.8L890.5 425.2L890.8 647.8L891.1 554.5L891.4 550.0L891.7 456.7L892.0 452.2L892.3 554.5L892.6 550.0L892.9 550.0L893.2 420.7L893.5 452.2L893.8 456.7L894.1 342.6L894.4 425.2L894.7 425.2L895.0 492.8L895.3 420.7L895.6 452.2L895.9 395.0L896.2 497.3L896.5 492.8L896.8 647.8L897.1 492.8L897.4 425.2L897.7 550.0L898.0 456.7L898.3 550.0L898.6 452.2L898.9 550.0L899.2 420.7L899.5 492.8L899.8 378.0L900.1 647.8L900.4 492.8L900.7 425.2L901.0 647.8L901.3 425.2L901.6 456.7L901.9 550.0L902.2 550.0L902.5 452.2L902.8 492.8L903.1 338.1L903.4 497.3L903.7 550.0L904.0 456.7L904.3 420.7L904.6 354.3L904.9 425.2L905.2 492.8L905.5 492.8L905.8 647.8L906.1 492.8L906.4 492.8L906.7 497.3L907.0 492.8L907.3 497.3L907.6 456.7L907.9 452.2L908.2 497.3L908.5 497.3L908.8 452.2L909.1 550.0L909.4 550.0L909.7 492.8L910.0 395.0L910.3 456.7L910.6 452.2L910.9 550.0L911.2 647.8L911.5 554.5L911.8 452.2L912.1 652.3L912.4 456.7L912.7 452.2L913.0 452.2L913.3 425.2L913.6 647.8L913.9 550.0L914.2 550.0L914.5 497.3L914.8 554.5L915.1 554.5L915.4 425.2L915.7 497.3L916.0 647.8L916.3 452.2L916.6 425.2L916.9 456.7L917.2 456.7L917.5 420.7L917.8 452.2L918.1 492.8L918.4 452.2L918.7 452.2L919.0 554.5L919.3 456.7L919.6 647.8L919.9 425.2L920.2 652.3L920.5 647.8L920.8 550.0L921.1 492.8L921.4 497.3L921.7 452.2L922.0 550.0L922.3 373.4L922.6 373.4L922.9 452.2L923.2 647.8L923.5 425.2L923.8 452.2L924.1 497.3L924.4 550.0L924.7 492.8L925.0 497.3L925.3 550.0L925.6 492.8L925.9 425.2L926.2 647.8L926.5 647.8L926.8 647.8L927.1 425.2L927.4 452.2L927.7 452.2L928.0 492.8L928.3 456.7L928.6 554.5L928.9 554.5L929.2 492.8L929.5 452.2L929.8 452.2L930.1 652.3L930.4 425.2L930.7 550.0L931.0 420.7L931.3 647.8L931.6 368.7L931.9 647.8L932.2 550.0L932.5 456.7L932.8 497.3L933.1 497.3L933.4 492.8L933.7 497.3L934.0 550.0L934.3 554.5L934.6 399.7L934.9 492.8L935.2 647.8L935.5 452.2M936.1 497.3L936.4 452.2L936.7 452.2L937.0 399.7L937.3 452.2L937.6 497.3L937.9 647.8L938.2 550.0L938.5 425.2L938.8 550.0L939.1 452.2L939.4 554.5L939.7 420.7L940.0 452.2L940.3 550.0L940.6 647.8L940.9 554.5L941.2 395.0L941.5 497.3L941.8 550.0L942.1 550.0L942.4 647.8L942.7 452.2L943.0 456.7L943.3 456.7M955.6 492.8L955.9 373.4L956.2 550.0L956.5 492.8L956.8 456.7L957.1 456.7L957.4 420.7L957.7 452.2L958.0 425.2L958.3 497.3L958.6 395.0L958.9 452.2L959.2 497.3L959.5 456.7L959.8 492.8L960.1 420.7L960.4 497.3L960.7 420.7L961.0 550.0L961.3 647.8L961.6 456.7L961.9 420.7L962.2 550.0L962.5 456.7L962.8 452.2L963.1 452.2L963.4 420.7L963.7 550.0L964.0 452.2L964.3 456.7L964.6 647.8M965.2 456.7L965.5 452.2L965.8 647.8L966.1 550.0L966.4 652.3L966.7 420.7L967.0 452.2L967.3 452.2L967.6 492.8L968.0 652.3L968.3 456.7L968.6 425.2L968.9 550.0L969.2 554.5L969.5 652.3L969.8 420.7L970.1 550.0L970.4 550.0L970.7 395.0L971.0 492.8L971.3 456.7L971.6 492.8L971.9 554.5L972.2 492.8L972.5 550.0L972.8 452.2L973.1 399.7L973.4 456.7L973.7 420.7L974.0 554.5L974.3 425.2L974.6 452.2L974.9 425.2L975.2 456.7L975.5 492.8L975.8 399.7L976.1 550.0L976.4 497.3M977.0 425.2L977.3 456.7L977.6 456.7L977.9 647.8L978.2 395.0L978.5 652.3L978.8 554.5L979.1 456.7L979.4 647.8L979.7 416.4L980.0 550.0M980.6 652.3L980.9 554.5L981.2 497.3L981.5 550.0L981.8 452.2L982.1 647.8L982.4 497.3L982.7 550.0L983.0 497.3L983.3 554.5M983.9 554.5L984.2 456.7L984.5 420.7L984.8 652.3L985.1 452.2L985.4 456.7L985.7 492.8L986.0 492.8L986.3 550.0L986.6 647.8M987.2 652.3L987.5 492.8L987.8 550.0L988.1 554.5L988.4 647.8L988.7 554.5L989.0 647.8L989.3 647.8L989.6 554.5L989.9 647.8L990.2 452.2L990.5 652.3L990.8 554.5L991.1 497.3L991.4 554.5L991.7 550.0L992.0 497.3L992.3 452.2L992.6 554.5L992.9 452.2L993.2 647.8L993.5 652.3L993.8 652.3L994.1 550.0L994.4 452.2L994.7 550.0L995.0 550.0L995.3 550.0L995.6 452.2L995.9 492.5L996.2 550.0L996.5 550.0L996.8 492.8L997.1 492.5L997.4 647.8" stroke="#000" stroke-width="1.85"/>
<path d="M152.0 616.5L152.3 629.1L152.6 604.2L152.9 610.6L153.2 614.9L153.5 614.9L153.8 623.1L154.1 603.2L154.4 621.0L154.7 620.5L155.0 601.7L155.3 601.7L155.6 608.1L155.9 627.3L156.2 602.7L156.5 604.0L156.8 614.1L157.1 610.7L157.4 602.5L157.7 615.4L158.0 629.1L158.3 608.4L158.6 590.6L158.9 570.2L159.2 561.3L159.5 544.3L159.8 537.0L160.1 529.9L160.4 529.7L160.7 529.7L161.0 545.0L161.3 545.0L161.6 545.8L161.9 537.5L162.2 553.5L162.5 561.9L162.8 561.0L163.1 544.3L163.4 522.3L163.7 515.5L164.0 515.5L164.3 521.5L164.6 514.9L164.9 509.0L165.2 497.0L165.5 497.0L165.8 491.5L166.1 503.2L166.4 509.2L166.7 503.7L167.0 497.9L167.3 522.8L167.6 536.6L167.9 552.4L168.2 552.4L168.5 580.4L168.8 560.7L169.1 560.7L169.4 569.0L169.7 600.6L170.0 578.8L170.3 569.3L170.6 560.2L170.9 579.4L171.2 579.1L171.5 589.6L171.8 589.6L172.1 601.0L172.4 589.6L172.7 589.6L173.0 579.4L173.3 580.1L173.6 561.6L173.9 537.0L174.2 537.7L174.5 523.4L174.8 517.1L175.1 517.3L175.4 511.0L175.7 523.6L176.0 530.2L176.3 544.5L176.6 570.8L176.9 590.3L177.2 590.3L177.5 580.1L177.8 552.1L178.1 570.2L178.4 570.2L178.7 570.2L179.0 570.2L179.3 552.1L179.6 536.3L179.9 552.4L180.2 560.2L180.5 570.2L180.8 560.7L181.1 560.7L181.4 560.7L181.7 544.0L182.0 561.0L182.3 570.2L182.6 579.7L182.9 590.3L183.2 600.6L183.5 612.9L183.8 570.2L184.1 561.0L184.4 570.8L184.7 570.8L185.0 580.7L185.3 580.7L185.6 580.7L185.9 591.3L186.2 591.3L186.5 590.0L186.8 590.0L187.1 589.3L187.4 600.2L187.7 605.7L188.0 600.2L188.3 602.6L188.6 625.9L188.9 611.7L189.2 619.1L189.5 603.0L189.8 625.0L190.1 605.5L190.4 605.5L190.7 603.4L191.0 571.4L191.3 562.2L191.6 552.9L191.9 561.3L192.2 553.2L192.5 561.0L192.8 536.6L193.1 529.3L193.4 522.5L193.7 523.2L194.0 523.2L194.3 545.3L194.6 537.7L194.9 537.7L195.2 545.8L195.5 563.0L195.8 572.3L196.1 581.0L196.4 602.5L196.7 602.5L197.0 580.4L197.3 580.1L197.6 579.4L197.9 569.9L198.2 569.6L198.5 590.0L198.8 605.1L199.1 626.8L199.4 603.9L199.7 601.7L200.0 579.7L200.3 590.3L200.6 601.3L200.9 601.7L201.2 590.3L201.5 552.1L201.8 552.4L202.1 560.5L202.4 579.4L202.7 613.7L203.0 601.3L203.3 590.3L203.6 580.1L203.9 580.1L204.2 602.1L204.5 590.3L204.8 590.3L205.1 590.6L205.4 580.1L205.7 590.6L206.0 601.3L206.3 612.9L206.6 607.8L206.9 605.1L207.2 603.7L207.5 618.5L207.8 613.3L208.1 610.2L208.4 613.3L208.7 613.3L209.0 601.0L209.3 600.6L209.6 608.8L209.9 630.6L210.2 623.4L210.5 612.7L210.8 608.1L211.1 625.9L211.4 603.3L211.7 626.8L212.0 613.3L212.3 601.0L212.6 579.1L212.9 601.0L213.2 601.3L213.5 601.3L213.8 620.7L214.1 622.4L214.4 602.7L214.7 605.5L215.0 602.8L215.3 624.1L215.6 601.7L215.9 569.6L216.2 561.0L216.5 544.3L216.8 552.4L217.1 544.5L217.4 561.3L217.7 569.6L218.0 560.5L218.3 570.2L218.6 602.1L218.9 613.7L219.2 613.3L219.5 614.4L219.8 631.1L220.1 617.7L220.4 605.5L220.7 616.4L221.0 611.8L221.3 611.5L221.6 605.6L221.9 619.6L222.2 626.8L222.5 623.0L222.8 601.7L223.1 608.7L223.4 604.6L223.7 616.3L224.0 633.1L224.3 615.5L224.6 618.9L224.9 579.7L225.2 580.4L225.5 570.5L225.8 552.7L226.1 552.7L226.5 536.8L226.8 529.9L227.1 523.0L227.4 516.3L227.7 544.0L228.0 544.0L228.3 561.0L228.6 552.4L228.9 529.3L229.2 537.0L229.5 537.0L229.8 537.5L230.1 537.5L230.4 516.5L230.7 509.8L231.0 509.8L231.3 522.8L231.6 544.8L231.9 544.3L232.2 551.9L232.5 569.0L232.8 578.8L233.1 589.3L233.4 589.3L233.7 579.1L234.0 560.2L234.3 569.3L234.6 560.2L234.9 569.3L235.2 560.2L235.5 560.7L235.8 570.2L236.1 602.1L236.4 601.3L236.7 590.0L237.0 579.4L237.3 601.3L237.6 579.4L237.9 569.6L238.2 569.0L238.5 560.2L238.8 560.2L239.1 560.2L239.4 589.6L239.7 601.0L240.0 579.1L240.3 601.0L240.6 601.0L240.9 569.3L241.2 578.8L241.5 560.5L241.8 560.5L242.1 544.5L242.4 515.9L242.7 529.5L243.0 510.2L243.3 504.7L243.6 523.8L243.9 530.6L244.2 530.2L244.5 537.5L244.8 544.5L245.1 570.8L245.4 552.9L245.7 545.0L246.0 561.0L246.3 553.2L246.6 529.9L246.9 523.6L247.2 510.6L247.5 516.9L247.8 493.7L248.1 505.2L248.4 517.3L248.7 504.8L249.0 504.3L249.3 504.8L249.6 504.3L249.9 504.3L250.2 493.4L250.5 510.4L250.8 516.7L251.1 516.7L251.4 530.6L251.7 531.3L252.0 554.0L252.3 572.0L252.6 582.0L252.9 603.2L253.2 612.3L253.5 591.7L253.8 613.5L254.1 614.9L254.4 622.9L254.7 580.1L255.0 580.1L255.3 591.0L255.6 581.0L255.9 545.0L256.2 552.7L256.5 537.3L256.8 537.3L257.1 552.7L257.4 580.4L257.7 591.0L258.0 580.1L258.3 579.4L258.6 627.7L258.9 607.0L259.2 614.1L259.5 610.1L259.8 603.9L260.1 601.7L260.4 590.3L260.7 591.0L261.0 591.0L261.3 590.6L261.6 561.0L261.9 545.3L262.2 538.0L262.5 523.6L262.8 530.4L263.1 517.3L263.4 510.6L263.7 505.0L264.0 499.5L264.3 511.8L264.6 538.5L264.9 546.0L265.2 554.8L265.5 572.3L265.8 592.0L266.1 602.6L266.4 630.0L266.7 609.1L267.0 606.9L267.3 614.9L267.6 614.5L267.9 601.3L268.2 590.0L268.5 601.3L268.8 601.3L269.1 611.8L269.4 601.0L269.7 601.0L270.0 589.6L270.3 601.0L270.6 612.0L270.9 627.7L271.2 614.5L271.5 602.5L271.8 602.5L272.1 591.0L272.4 581.4L272.7 572.3L273.0 563.0L273.3 538.2L273.6 531.1L273.9 517.1L274.2 523.4L274.5 523.4L274.8 538.0L275.1 561.9L275.4 570.2L275.7 580.1L276.0 590.6L276.3 589.6L276.6 589.6L276.9 601.0L277.2 578.8L277.5 560.5L277.8 544.3L278.1 561.0L278.4 561.0L278.7 561.0L279.0 580.4L279.3 602.5L279.6 580.4L279.9 591.7L280.2 607.2L280.5 612.2L280.8 614.5L281.1 591.3L281.4 591.3L281.7 591.3L282.0 580.7L282.3 580.7L282.6 580.1L282.9 579.7L283.2 579.4L283.5 590.0L283.8 600.6L284.1 604.0L284.4 618.1L284.7 607.0L285.0 619.6L285.3 613.8L285.6 618.8L285.9 615.4L286.2 591.0L286.5 580.4L286.8 591.0L287.1 580.7L287.4 580.7L287.7 570.8L288.0 580.4L288.3 570.2L288.6 579.7L288.9 580.7L289.2 580.7L289.5 562.2L289.8 562.2L290.1 562.2L290.4 545.3L290.7 529.9L291.0 537.5L291.3 522.8L291.6 536.3L291.9 544.3L292.2 560.5L292.5 544.3L292.8 544.8L293.1 552.9L293.4 562.2L293.7 545.0L294.0 553.2L294.3 537.3L294.6 530.2L294.9 516.5L295.2 523.0L295.5 529.5L295.8 537.0L296.1 552.4L296.4 561.0L296.7 580.1L297.0 581.0L297.3 602.5L297.6 614.9L297.9 590.3L298.2 590.3L298.5 580.1L298.8 530.6L299.1 538.0L299.4 531.1L299.7 537.7L300.0 505.2L300.3 499.4L300.6 524.5L300.9 531.5L301.2 524.0L301.5 552.9L301.8 544.8L302.1 552.4L302.4 552.4L302.7 559.6L303.0 569.0L303.3 544.0L303.6 536.6L303.9 544.3L304.2 536.6L304.5 529.3L304.8 516.3L305.1 510.0L305.4 537.3L305.7 537.0L306.0 544.5L306.3 529.3L306.6 536.6L306.9 522.3L307.2 536.6L307.5 544.0L307.8 544.8L308.1 529.7L308.4 509.8L308.7 515.7L309.0 522.8L309.3 510.4L309.6 530.4L309.9 510.4L310.2 504.5L310.5 516.3L310.8 498.1L311.1 504.5L311.4 498.6L311.7 487.3L312.0 492.2L312.3 487.3L312.6 498.6L312.9 510.0L313.2 510.0L313.5 529.9L313.8 529.3L314.1 536.6L314.4 552.9L314.7 538.0L315.0 538.0L315.3 530.8L315.6 517.1L315.9 523.8L316.2 517.1L316.5 530.8L316.8 517.1L317.1 510.4L317.4 515.9L317.7 528.8L318.0 528.1L318.3 528.1L318.6 502.4L318.9 508.4L319.2 496.7L319.5 496.7L319.8 502.8L320.1 508.8L320.4 502.8L320.7 509.2L321.0 515.9L321.3 523.2L321.6 516.5L321.9 492.7L322.2 498.3L322.5 503.7L322.8 503.7L323.1 504.1L323.4 516.1L323.7 509.4L324.0 508.8L324.3 521.9L324.6 536.1L324.9 529.5L325.2 529.5L325.5 522.5L325.8 510.0L326.1 498.1L326.4 516.3L326.7 516.3L327.0 510.2L327.3 523.8L327.6 530.6L327.9 517.6L328.2 517.6L328.5 530.8L328.8 531.3L329.1 511.8L329.4 511.8L329.7 505.2L330.0 504.7L330.3 516.7L330.6 516.7L330.9 516.7L331.2 529.9L331.5 522.5L331.8 515.3L332.1 515.3L332.4 515.3L332.7 521.9L333.0 515.5L333.3 521.5L333.6 522.1L333.9 509.2L334.2 515.9L334.5 529.5L334.8 544.8L335.1 552.9L335.4 545.5L335.7 538.0L336.0 530.6L336.3 529.9L336.6 516.3L336.9 522.8L337.2 537.0L337.5 544.5L337.8 537.5L338.1 561.3L338.4 569.9L338.7 570.8L339.0 591.3L339.3 602.8L339.6 570.5L339.9 545.3L340.2 516.5L340.5 529.5L340.8 503.5L341.1 497.7L341.4 503.3L341.7 486.6L342.0 487.1L342.3 487.1L342.6 492.0L342.9 509.6L343.2 492.2L343.5 509.8L343.8 497.9L344.1 492.5L344.4 510.0L344.7 509.4L345.0 515.7L345.3 529.3L345.6 529.0L345.9 552.4L346.2 560.7L346.5 570.8L346.8 580.4L347.1 571.1L347.4 591.7L347.7 603.2L348.0 572.0L348.3 554.0L348.6 523.4L348.9 504.8L349.2 516.9L349.5 530.2L349.8 522.8L350.1 516.5L350.4 510.8L350.7 523.4L351.0 530.4L351.3 546.3L351.6 530.4L351.9 516.5L352.2 498.3L352.5 498.3L352.8 492.3L353.1 492.3L353.4 487.1L353.7 492.5L354.0 487.3L354.3 510.4L354.6 517.1L354.9 538.2L355.2 546.0L355.5 546.0L355.8 545.3L356.1 544.8L356.4 537.0L356.7 551.9L357.0 551.9L357.3 560.2L357.6 543.5L357.9 543.5L358.2 543.5L358.5 535.8L358.8 543.5L359.1 543.5L359.4 536.6L359.7 522.8L360.0 515.9L360.3 516.3L360.6 510.6L360.9 530.6L361.2 554.0L361.5 545.8L361.8 516.9L362.1 523.0L362.4 522.3L362.7 529.3L363.0 521.9L363.3 508.4L363.6 491.6L363.9 481.6L364.2 486.8L364.5 516.1L364.8 516.1L365.1 522.8L365.4 509.8L365.7 516.5L366.0 530.8L366.3 530.8L366.6 530.2L366.9 530.2L367.2 504.8L367.5 505.2L367.8 505.6L368.1 505.6L368.4 499.9L368.7 505.2L369.0 523.8L369.3 523.8L369.6 510.8L369.9 544.8L370.2 544.3L370.5 536.1L370.8 560.5L371.1 588.9L371.4 600.6L371.7 551.3L372.0 569.3L372.3 589.6L372.6 579.4L372.9 579.4L373.2 601.3L373.5 590.0L373.8 579.7L374.1 570.2L374.4 602.1L374.8 601.7L375.1 590.3L375.4 590.3L375.7 591.0L376.0 602.5L376.3 591.0L376.6 570.2L376.9 570.2L377.2 570.2L377.5 580.1L377.8 602.1L378.1 602.1L378.4 612.1L378.7 601.3L379.0 620.4L379.3 631.0L379.6 614.5L379.9 629.1L380.2 603.6L380.5 610.8L380.8 612.9L381.1 612.9L381.4 624.9L381.7 626.8L382.0 602.7L382.3 624.3L382.6 613.3L382.9 600.6L383.2 607.9L383.5 620.1L383.8 601.7L384.1 590.6L384.4 590.3L384.7 590.3L385.0 601.7L385.3 622.2L385.6 608.9L385.9 614.1L386.2 601.7L386.5 613.3L386.8 613.9L387.1 612.9L387.4 589.3L387.7 600.6L388.0 600.2L388.3 588.9L388.6 601.0L388.9 613.3L389.2 609.9L389.5 551.6L389.8 560.5L390.1 561.0L390.4 552.4L390.7 552.4L391.0 561.3L391.3 560.7L391.6 560.7L391.9 561.0L392.2 602.1L392.5 602.1L392.8 579.4L393.1 560.5L393.4 551.9L393.7 543.5L394.0 560.2L394.3 551.6L394.6 551.3L394.9 551.3L395.2 535.4L395.5 522.5L395.8 536.8L396.1 530.2L396.4 530.2L396.7 523.2L397.0 516.5L397.3 523.2L397.6 537.5L397.9 562.2L398.2 613.7L398.5 601.3L398.8 612.5L399.1 607.3L399.4 588.9L399.7 608.4L400.0 611.8L400.3 612.5L400.6 578.5L400.9 551.1L401.2 568.7L401.5 578.5L401.8 551.1L402.1 559.6L402.4 543.5L402.7 522.3L403.0 529.3L403.3 537.0L403.6 561.6L403.9 570.8L404.2 580.7L404.5 615.4L404.8 615.4L405.1 614.5L405.4 613.6L405.7 604.3L406.0 613.7L406.3 590.6L406.6 590.6L406.9 580.1L407.2 580.7L407.5 591.3L407.8 602.8L408.1 602.5L408.4 606.1L408.7 622.0L409.0 611.7L409.3 602.5L409.6 602.8L409.9 614.5L410.2 614.5L410.5 602.8L410.8 592.0L411.1 581.0L411.4 571.1L411.7 590.6L412.0 580.1L412.3 570.5L412.6 570.5L412.9 580.4L413.2 601.7L413.5 601.0L413.8 605.1L414.1 613.3L414.4 601.7L414.7 601.7L415.0 601.0L415.3 601.0L415.6 590.0L415.9 569.6L416.2 579.4L416.5 561.3L416.8 536.8L417.1 544.3L417.4 552.7L417.7 561.6L418.0 544.8L418.3 552.7L418.6 553.2L418.9 529.9L419.2 529.3L419.5 552.9L419.8 536.8L420.1 529.7L420.4 536.8L420.7 544.5L421.0 536.8L421.3 536.8L421.6 536.8L421.9 544.5L422.2 537.0L422.5 537.0L422.8 536.6L423.1 529.5L423.4 537.0L423.7 522.8L424.0 529.3L424.3 544.3L424.6 552.4L424.9 569.3L425.2 569.3L425.5 569.9L425.8 569.6L426.1 579.1L426.4 590.3L426.7 590.3L427.0 590.3L427.3 561.9L427.6 553.7L427.9 563.0L428.2 545.5L428.5 545.8L428.8 523.6L429.1 530.2L429.4 516.5L429.7 504.1L430.0 509.4L430.3 503.0L430.6 503.0L430.9 515.3L431.2 492.3L431.5 497.9L431.8 487.0L432.1 492.7L432.4 504.1L432.7 504.1L433.0 510.2L433.3 504.3L433.6 510.4L433.9 515.7L434.2 510.0L434.5 523.2L434.8 516.1L435.1 510.4L435.4 517.1L435.7 498.8L436.0 504.5L436.3 493.5L436.6 505.0L436.9 510.6L437.2 510.4L437.5 523.4L437.8 516.9L438.1 510.2L438.4 530.2L438.7 529.7L439.0 552.1L439.3 544.0L439.6 544.0L439.9 536.3L440.2 544.0L440.5 578.5L440.8 612.5L441.1 601.3L441.4 613.7L441.7 601.3L442.0 612.5L442.3 620.3L442.6 612.7L442.9 613.7L443.2 579.4L443.5 569.6L443.8 568.7L444.1 568.7L444.4 559.6L444.7 543.5L445.0 529.3L445.3 544.5L445.6 552.9L445.9 552.9L446.2 537.0L446.5 537.0L446.8 537.0L447.1 537.5L447.4 544.8L447.7 544.0L448.0 536.6L448.3 522.1L448.6 536.3L448.9 529.0L449.2 544.3L449.5 536.6L449.8 529.5L450.1 522.5L450.4 544.5L450.7 552.1L451.0 579.7L451.3 560.7L451.6 590.3L451.9 579.4L452.2 590.0L452.5 590.0L452.8 601.3L453.1 579.4L453.4 560.5L453.7 560.5L454.0 579.7L454.3 560.7L454.6 569.9L454.9 560.7L455.2 589.3L455.5 569.0L455.8 589.3L456.1 590.3L456.4 553.2L456.7 552.9L457.0 570.8L457.3 561.6L457.6 552.9L457.9 552.9L458.2 571.1L458.5 553.2L458.8 553.2L459.1 569.9L459.4 569.9L459.7 544.0L460.0 544.5L460.3 545.3L460.6 545.3L460.9 553.2L461.2 553.2L461.5 561.0L461.8 570.2L462.1 570.2L462.4 590.6L462.7 590.0L463.0 600.2L463.3 569.6L463.6 560.5L463.9 536.1L464.2 544.0L464.5 552.1L464.8 537.0L465.1 529.7L465.4 523.4L465.7 523.4L466.0 544.8L466.3 529.7L466.6 544.8L466.9 544.8L467.2 530.2L467.5 529.5L467.8 552.7L468.1 579.4L468.4 569.6L468.7 544.5L469.0 561.6L469.3 571.4L469.6 554.0L469.9 571.4L470.2 572.3L470.5 539.2L470.8 525.1L471.1 525.1L471.4 531.5L471.7 531.3L472.0 538.5L472.3 562.4L472.6 537.7L472.9 537.7L473.2 552.7L473.5 536.3L473.8 536.3L474.1 544.3L474.4 544.3L474.7 544.0L475.0 522.1L475.3 515.5L475.6 521.5L475.9 521.9L476.2 543.8L476.5 560.5L476.8 551.6L477.1 543.5L477.4 528.6L477.7 522.5L478.0 544.5L478.3 536.8L478.6 529.0L478.9 522.1L479.2 509.2L479.5 503.2L479.8 503.5L480.1 510.0L480.4 522.1L480.7 522.3L481.0 522.3L481.3 522.3L481.6 509.4L481.9 515.7L482.2 529.5L482.5 522.8L482.8 515.7L483.1 522.3L483.4 522.1L483.7 516.3L484.0 530.2L484.3 545.8L484.6 562.7L484.9 546.3L485.2 537.7L485.5 537.7L485.8 523.4L486.1 523.4L486.4 529.5L486.7 516.3L487.0 515.9L487.3 509.6L487.6 497.2L487.9 509.0L488.2 521.9L488.5 522.5L488.8 516.3L489.1 516.3L489.4 529.3L489.7 522.3L490.0 515.7L490.3 544.5L490.6 552.9L490.9 552.9L491.2 569.9L491.5 579.1L491.8 579.1L492.1 560.2L492.4 560.2L492.7 551.6L493.0 543.3L493.3 528.1L493.6 521.3L493.9 521.3L494.2 508.4L494.5 491.1L494.8 491.6L495.1 503.2L495.4 515.5L495.7 522.1L496.0 522.1L496.3 516.1L496.6 504.3L496.9 510.8L497.2 510.8L497.5 523.2L497.8 510.6L498.1 510.6L498.4 498.6L498.7 487.6L499.0 498.1L499.3 509.6L499.6 503.2L499.9 544.0L500.2 529.7L500.5 552.1L500.8 552.1L501.1 561.3L501.4 581.4L501.7 562.2L502.0 553.2L502.3 571.4L502.6 545.3L502.9 561.3L503.2 552.7L503.5 552.7L503.8 552.7L504.1 579.4L504.4 601.7L504.7 601.7L505.0 579.4L505.3 590.6L505.6 580.7L505.9 591.3L506.2 580.7L506.5 570.2L506.8 552.4L507.1 544.5L507.4 552.7L507.7 553.5L508.0 544.8L508.3 544.8L508.6 544.8L508.9 537.7L509.2 546.0L509.5 538.2L509.8 523.4L510.1 523.4L510.4 523.4L510.7 523.4L511.0 516.9L511.3 510.8L511.6 510.8L511.9 516.7L512.2 523.4L512.5 523.4L512.8 523.4L513.1 529.7L513.4 545.0L513.7 544.3L514.0 544.0L514.3 536.6L514.6 522.3L514.9 529.5L515.2 552.9L515.5 552.9L515.8 537.0L516.1 529.5L516.4 536.8L516.7 537.0L517.0 543.8L517.3 560.5L518.5 470.0L519.3 440.0L520.2 455.0L521.0 418.0L522.0 440.0L523.0 446.0L534.8 336.6L535.1 324.3L535.4 327.3L535.7 325.2L536.0 311.5L536.3 318.9L536.6 310.4L536.9 313.7L537.2 315.7L537.5 311.6L537.8 307.9L538.1 315.0L538.4 309.6L538.7 299.9L539.0 284.8L539.3 278.1L539.6 266.2L539.9 268.2L540.2 267.8L540.5 268.5L540.8 265.8L541.1 273.3L541.4 283.3L541.7 296.9L542.0 299.4L542.3 289.6L542.6 297.4L542.9 296.6L543.2 295.0L543.5 294.5L543.8 290.4L544.1 291.2L544.4 294.4L544.7 287.6L545.0 295.5L545.3 296.4L545.6 288.2L545.9 288.0L546.2 280.4L546.5 287.3L546.8 274.5L547.1 274.4L547.4 270.2L547.7 269.5L548.0 261.0L548.3 265.5L548.6 260.2L548.9 274.5L549.2 271.1L549.5 273.8L549.8 276.6L550.1 282.5L550.4 283.4L550.7 280.4L551.0 275.3L551.3 273.2L551.6 274.7L551.9 273.4L552.2 277.7L552.5 275.5L552.8 278.4L553.1 281.2L553.4 288.1L553.7 293.7L554.0 292.9L554.3 284.2L554.6 284.2L554.9 277.5L555.2 269.9L555.5 270.4L555.8 266.2L556.1 270.3L556.4 281.1L556.7 276.7L557.0 277.4L557.3 282.5L557.6 278.2L557.9 277.5L558.2 276.7L558.5 269.7L558.8 266.2L559.1 271.0L559.4 274.4L559.7 268.1L560.0 258.6L560.3 254.2L560.6 248.3L560.9 248.3L561.2 237.9L561.5 233.7L561.8 234.3L562.1 239.6L562.4 242.3L562.7 245.1L563.0 246.8L563.3 252.2L563.6 249.9L563.9 256.0L564.2 253.0L564.5 248.3L564.8 243.8L565.1 243.2L565.4 242.8L565.7 246.2L566.0 242.8L566.3 250.3L566.6 251.4L566.9 255.6L567.2 253.3L567.5 251.3L567.8 248.9L568.1 246.5L568.4 237.4L568.7 237.4L569.0 236.3L569.3 239.4L569.6 248.0L569.9 246.2L570.2 248.6L570.5 253.4L570.8 251.0L571.1 254.1L571.4 257.2L571.7 247.5L572.0 249.3L572.3 246.9L572.6 242.9L572.9 245.3L573.2 245.9L573.5 243.5L573.8 251.2L574.1 252.4L574.4 259.2L574.7 266.2L575.0 273.6L575.3 275.0L575.6 277.1L575.9 277.1L576.2 279.3L576.5 272.9L576.8 267.6L577.1 262.4L577.4 261.8L577.7 262.4L578.0 269.8L578.3 272.5L578.6 275.4L578.9 278.9L579.2 277.4L579.5 278.2L579.8 279.7L580.1 266.9L580.4 259.1L580.7 257.9L581.0 258.5L581.3 259.1L581.6 253.4L581.9 256.4L582.2 253.3L582.5 257.6L582.8 251.4L583.1 253.2L583.4 255.6L583.7 259.4L584.0 250.9L584.3 255.3L584.6 255.9L584.9 269.5L585.2 265.6L585.5 260.5L585.8 259.8L586.1 263.6L586.4 271.5L586.7 270.9L587.0 264.9L587.3 267.6L587.6 271.7L587.9 272.4L588.2 272.4L588.5 277.2L588.8 280.1L589.1 278.6L589.4 282.4L589.7 278.6L590.0 283.1L590.3 278.8L590.6 266.4L590.9 266.4L591.2 267.7L591.5 265.7L591.8 270.4L592.1 260.3L592.4 260.9L592.7 260.2L593.0 255.3L593.3 255.3L593.6 251.6L593.9 247.4L594.2 253.5L594.5 258.4L594.8 263.6L595.1 264.3L595.4 268.2L595.7 272.3L596.0 274.4L596.3 275.1L596.6 275.8L596.9 275.1L597.2 278.0L597.5 266.2L597.8 262.9L598.1 264.2L598.4 259.0L598.7 256.6L599.0 251.1L599.3 243.4L599.6 254.2L599.9 261.1L600.2 261.8L600.5 270.5L600.8 267.1L601.1 271.1L601.4 274.0L601.7 270.4L602.0 261.7L602.3 261.0L602.6 251.3L602.9 260.4L603.2 254.9L603.5 258.6L603.8 254.9L604.1 256.8L604.4 261.3L604.7 265.8L605.0 257.5L605.3 265.2L605.6 271.3L605.9 278.4L606.2 271.4L606.5 262.0L606.8 263.9L607.1 264.6L607.4 265.9L607.7 253.9L608.0 250.8L608.3 250.6L608.6 253.1L608.9 242.4L609.2 240.8L609.5 236.9L609.8 234.0L610.1 231.9L610.4 235.1L610.7 232.4L611.0 238.4L611.3 235.7L611.6 236.3L611.9 241.4L612.2 246.0L612.5 243.7L612.8 241.6L613.1 238.2L613.4 236.9L613.7 228.4L614.0 229.9L614.3 223.3L614.6 220.9L614.9 219.0L615.2 220.6L615.5 222.5L615.8 225.0L616.1 219.5L616.4 220.6L616.7 221.6L617.0 226.9L617.3 228.9L617.6 235.3L617.9 242.5L618.2 246.0L618.5 246.5L618.8 254.3L619.1 255.5L619.4 256.7L619.7 249.5L620.0 242.7L620.3 247.9L620.6 252.0L620.9 243.4L621.2 245.1L621.5 244.0L621.8 246.2L622.1 255.7L622.4 253.2L622.7 248.5L623.0 251.4L623.3 250.2L623.6 250.1L623.9 248.3L624.2 241.5L624.5 240.3L624.8 242.5L625.1 239.8L625.4 232.4L625.7 234.5L626.0 237.8L626.3 241.1L626.6 243.3L626.9 243.3L627.2 246.6L627.5 250.0L627.8 248.2L628.1 244.8L628.4 241.5L628.7 232.7L629.0 231.2L629.3 231.2L629.6 235.9L629.9 234.8L630.2 240.6L630.5 241.7L630.8 252.9L631.1 254.1L631.4 252.3L631.7 253.5L632.0 253.7L632.3 247.7L632.6 251.8L632.9 251.8L633.2 253.6L633.5 256.7L633.8 253.6L634.1 254.7L634.4 263.7L634.7 263.8L635.0 265.1L635.3 259.8L635.6 255.6L635.9 256.2L636.2 262.0L636.5 257.5L636.8 256.8L637.1 255.6L637.4 255.6L637.7 259.8L638.0 265.0L638.3 261.7L638.6 263.7L638.9 263.7L639.2 264.3L639.5 269.1L639.8 272.6L640.1 265.7L640.4 266.4L640.7 258.0L641.0 250.0L641.3 243.7L641.6 239.1L641.9 236.9L642.2 243.5L642.5 241.2L642.8 243.9L643.1 250.4L643.4 250.9L643.7 252.7L644.0 254.0L644.3 247.5L644.6 242.5L644.9 240.3L645.2 234.4L645.5 232.5L645.8 228.5L646.1 226.4L646.4 220.2L646.7 218.1L647.0 215.4L647.3 219.0L647.6 215.4L647.9 216.7L648.2 211.0L648.5 217.3L648.8 218.4L649.1 220.8L649.4 214.1L649.7 221.5L650.0 219.1L650.3 226.8L650.6 218.4L650.9 217.9L651.2 217.4L651.5 228.3L651.8 225.4L652.1 227.6L652.4 220.6L652.7 225.2L653.0 230.7L653.3 230.7L653.6 220.2L653.9 221.6L654.2 217.1L654.5 215.9L654.8 216.3L655.1 211.8L655.4 212.7L655.7 217.0L656.0 211.7L656.3 216.1L656.6 216.8L656.9 211.5L657.2 211.9L657.5 204.2L657.8 195.2L658.1 195.1L658.4 189.8L658.7 184.0L659.0 185.3L659.3 185.1L659.6 189.5L659.9 195.2L660.2 193.6L660.5 196.1L660.8 203.7L661.1 202.8L661.4 201.4L661.7 202.5L662.0 199.8L662.3 199.0L662.6 195.6L662.9 192.8L663.2 190.7L663.5 187.0L663.8 180.9L664.1 184.0L664.4 183.7L664.7 187.8L665.0 190.5L665.3 191.4L665.6 194.1L665.9 195.3L666.2 190.8L666.5 188.8L666.8 186.3L667.1 181.7L667.4 182.0L667.7 179.6L668.0 179.9L668.3 186.1L668.6 185.3L668.9 185.3L669.2 183.8L669.5 184.3L669.8 188.6L670.1 192.3L670.4 187.9L670.7 192.4L671.0 190.1L671.4 195.5L671.7 198.9L672.0 196.0L672.3 195.1L672.6 196.3L672.9 194.8L673.2 196.0L673.5 197.9L673.8 193.6L674.1 186.7L674.4 183.2L674.7 185.6L675.0 181.1L675.3 186.3L675.6 179.9L675.9 180.7L676.2 194.9L676.5 195.6L676.8 193.9L677.1 201.6L677.4 199.1L677.7 199.9L678.0 197.4L678.3 191.7L678.6 197.2L678.9 201.8L679.2 199.0L679.5 206.4L679.8 211.8L680.1 216.0L680.4 215.5L680.7 206.7L681.0 199.2L681.3 200.9L681.6 191.1L681.9 189.9L682.2 187.8L682.5 188.2L682.8 193.8L683.1 191.5L683.4 193.5L683.7 192.6L684.0 197.5L684.3 201.2L684.6 200.6L684.9 201.9L685.2 202.3L685.5 201.0L685.8 206.7L686.1 204.5L686.4 199.6L686.7 199.6L687.0 198.6L687.3 199.7L687.6 204.1L687.9 206.8L688.2 205.3L688.5 212.1L688.8 216.6L689.1 216.0L689.4 219.7L689.7 218.1L690.0 214.2L690.3 215.4L690.6 213.4L690.9 211.4L691.2 211.4L691.5 210.3L691.8 214.9L692.1 217.0L692.4 220.8L692.7 217.3L693.0 218.7L693.3 221.2L693.6 224.6L693.9 218.0L694.2 221.7L694.5 222.2L694.8 229.5L695.1 227.2L695.4 220.7L695.7 213.0L696.0 213.4L696.3 209.8L696.6 208.5L696.9 209.4L697.2 206.8L697.5 206.7L697.8 212.2L698.1 212.5L698.4 216.7L698.7 216.1L699.0 212.5L699.3 220.2L699.6 227.9L699.9 227.3L700.2 230.4L700.5 232.6L700.8 227.9L701.1 230.8L701.4 225.1L701.7 229.7L702.0 234.5L702.3 237.7L702.6 234.0L702.9 237.3L703.2 238.9L703.5 245.3L703.8 246.4L704.1 254.1L704.4 251.0L704.7 244.4L705.0 245.0L705.3 242.8L705.6 243.3L705.9 241.7L706.2 239.6L706.5 238.0L706.8 244.2L707.1 252.5L707.4 251.1L707.7 248.3L708.0 246.0L708.3 238.6L708.6 237.3L708.9 235.7L709.2 231.0L709.5 231.5L709.8 234.0L710.1 230.2L710.4 227.7L710.7 233.4L711.0 233.9L711.3 231.8L711.6 231.4L711.9 233.0L712.2 229.1L712.5 231.2L712.8 226.7L713.1 222.7L713.4 222.7L713.7 221.3L714.0 216.9L714.3 228.0L714.6 232.2L714.9 235.8L715.2 240.3L715.5 242.0L715.8 248.8L716.1 254.2L716.4 254.2L716.7 260.3L717.0 255.9L717.3 257.0L717.6 260.2L717.9 256.4L718.2 249.8L718.5 244.6L718.8 236.9L719.1 239.1L719.4 241.4L719.7 243.7L720.0 252.6L720.3 258.6L720.6 258.7L720.9 265.2L721.2 271.1L721.5 272.5L721.8 270.4L722.1 267.7L722.4 271.7L722.7 275.1L723.0 275.2L723.3 272.5L723.6 273.9L723.9 278.8L724.2 284.1L724.5 276.8L724.8 282.8L725.1 286.6L725.4 285.8L725.7 278.3L726.0 274.1L726.3 269.9L726.6 274.0L726.9 274.0L727.2 268.4L727.5 267.7L727.8 274.0L728.1 273.3L728.4 273.3L728.7 284.0L729.0 275.1L729.3 277.9L729.6 283.1L729.9 285.3L730.2 284.5L730.5 289.2L730.8 285.4L731.1 290.8L731.4 291.6L731.7 286.1L732.0 289.9L732.3 293.9L732.6 293.6L732.9 282.8L733.2 284.4L733.5 288.1L733.8 285.0L734.1 283.5L734.4 288.0L734.7 285.2L735.0 289.8L735.3 290.6L735.6 286.8L735.9 288.4L736.2 285.4L736.5 271.0L736.8 266.9L737.1 273.9L737.4 273.2L737.7 271.1L738.0 271.2L738.3 271.1L738.6 278.3L738.9 279.8L739.2 275.4L739.5 274.6L739.8 279.0L740.1 287.3L740.4 291.3L740.7 288.2L741.0 284.4L741.3 286.7L741.6 285.9L741.9 276.3L742.2 272.0L742.5 267.1L742.8 279.5L743.1 285.5L743.4 279.5L743.7 280.9L744.0 282.4L744.3 285.4L744.6 287.0L744.9 281.3L745.2 278.3L745.5 279.8L745.8 276.2L746.1 278.3L746.4 281.3L746.7 284.9L747.0 279.6L747.3 278.9L747.6 281.9L747.9 281.9L748.2 288.0L748.5 276.7L748.8 269.2L749.1 277.7L749.4 286.0L749.7 291.1L750.0 299.4L750.3 293.5L750.6 301.1L750.9 319.8L751.2 324.8L751.5 314.0L751.8 313.1L752.1 320.3L752.4 332.7L752.7 348.7L753.0 331.2L753.3 318.9L753.6 333.4L753.9 326.4L754.2 316.0L754.5 305.8L754.8 297.2L755.1 309.5L755.4 315.7L755.7 311.9L756.0 313.5L756.3 313.3L756.6 326.6L756.9 330.8L757.2 332.3L757.5 332.3L757.8 338.3L758.1 352.0L758.4 349.8L758.7 344.5L759.0 344.5L759.3 333.8L759.6 342.1L759.9 337.1L760.2 329.1L760.5 338.9L760.8 338.9L761.1 336.3L761.4 345.5L761.7 340.8L762.0 339.7L762.3 342.0L762.6 340.8L762.9 343.8L763.2 352.6L763.5 348.4L763.8 344.8L764.1 348.4L764.4 338.8L764.7 341.1L765.0 334.9L765.3 326.3L765.6 328.4L765.9 327.3L766.2 330.5L766.5 333.6L766.8 340.6L767.1 349.4L767.4 358.8L767.7 360.1L768.0 367.5L768.3 362.8L768.6 372.1L768.9 359.4L769.2 352.4L769.5 348.9L769.8 350.7L770.1 350.2L770.4 344.7L770.7 346.5L771.0 338.4L771.3 343.6L771.6 349.3L771.9 353.4L772.2 352.8L772.5 349.1L772.8 341.6L773.1 349.4L773.4 342.9L773.7 337.4L774.0 338.2L774.3 332.1L774.6 340.5L774.9 343.2L775.2 355.8L775.5 363.6L775.8 363.6L776.1 357.1L776.4 359.7L776.7 374.1L777.0 386.2L777.3 385.1L777.6 386.6L777.9 374.8L778.2 396.4L778.5 407.4L778.8 406.0L779.1 397.8L779.4 396.8L779.7 393.8L780.0 389.4L780.3 404.3L780.6 391.0L780.9 381.6L781.2 365.9L781.5 372.4L781.8 375.0L782.1 377.3L782.4 368.3L782.7 368.3L783.0 375.0L783.3 370.5L783.6 364.3L783.9 370.7L784.2 362.2L784.5 364.2L784.8 354.4L785.1 362.4L785.4 357.7L785.7 344.3L786.0 351.8L786.3 351.3L786.6 343.8L786.9 357.1L787.2 349.1L787.5 358.3L787.8 351.1L788.1 361.0L788.4 378.7L788.7 386.1L789.0 386.1L789.3 389.4L789.6 380.3L789.9 382.7L790.2 371.2L790.5 380.0L790.8 378.2L791.1 375.6L791.4 366.6L791.7 380.1L792.0 386.5L792.3 391.4L792.6 394.4L792.9 399.7L793.2 396.6L793.5 404.4L793.8 404.4L794.1 399.1L794.4 393.8L794.7 391.3L795.0 383.4L795.3 382.9L795.6 385.3L795.9 392.8L796.2 395.1L796.5 397.7L796.8 406.4L797.1 400.8L797.4 412.5L797.7 415.5L798.0 409.6L798.3 403.9L798.6 384.2L798.9 374.8L799.2 368.6L799.5 362.5L799.8 368.8L800.1 368.5L800.4 373.4L800.7 382.9L801.0 388.3L801.3 409.0L801.6 411.9L801.9 406.3L802.2 426.8L802.5 417.9L802.8 418.3L803.1 420.8L803.4 397.4L803.7 397.4L804.0 397.0L804.3 402.5L804.6 413.2L804.9 404.5L805.2 407.3L805.5 394.1L805.8 392.0L806.1 390.6L806.4 387.6L806.7 385.2L807.0 378.6L807.3 372.2L807.6 374.8L807.9 383.7L808.2 386.0L808.5 383.1L808.8 389.4L809.1 395.0L809.4 389.8L809.7 394.4L810.0 401.8L810.3 401.5L810.6 385.9L810.9 385.3L811.2 388.2L811.5 398.6L811.8 406.6L812.1 410.0L812.4 402.2L812.7 402.6L813.0 397.7L813.3 409.1L813.6 398.0L813.9 400.2L814.2 405.7L814.5 397.7L814.8 408.3L815.1 419.4L815.4 410.7L815.7 404.4L816.0 398.6L816.3 428.4L816.6 409.8L816.9 409.8L817.2 409.4L817.5 395.6L817.8 395.6L818.1 393.1L818.4 398.9L818.7 404.3L819.0 396.6L819.3 407.6L819.7 413.4L820.0 410.4L820.3 413.4L820.6 410.4L820.9 418.7L821.2 434.4L821.5 434.4L821.8 441.3L822.1 434.2L822.4 434.2L822.7 427.5L823.0 434.2L823.3 441.7L823.6 445.3L823.9 427.8L824.2 418.2L824.5 406.2L824.8 421.0L825.1 403.3L825.4 409.5L825.7 409.9L826.0 404.4L826.3 413.0L826.6 405.2L826.9 408.0L827.2 413.8L827.5 411.3L827.8 414.3L828.1 407.9L828.4 402.0L828.7 407.4L829.0 399.1L829.3 407.1L829.6 413.3L829.9 406.8L830.2 415.1L830.5 421.3L830.8 434.9L831.1 446.1L831.4 446.1L831.7 453.8L832.0 461.7L832.3 465.4L832.6 475.3L832.9 470.8L833.2 480.0L833.5 489.3L833.8 464.4L834.1 464.4L834.4 456.1L834.7 440.4L835.0 447.9L835.3 447.9L835.6 444.6L835.9 437.9L836.2 434.4L836.5 450.4L836.8 446.2L837.1 438.9L837.4 450.6L837.7 443.3L838.0 450.9L838.3 447.2L838.6 425.6L838.9 419.2L839.2 422.3L839.5 422.3L839.8 432.4L840.1 435.3L840.4 431.6L840.7 435.0L841.0 421.3L841.3 445.3L841.6 438.1L841.9 424.2L842.2 427.8L842.5 424.6L842.8 427.9L843.1 406.5L843.4 398.2L843.7 412.6L844.0 409.7L844.3 421.8L844.6 428.2L844.9 424.7L845.2 421.6L845.5 418.5L845.8 432.2L846.1 439.5L846.4 442.6L846.7 450.2L847.0 425.4L847.3 429.1L847.6 429.1L847.9 428.6L848.2 432.0L848.5 442.2L848.8 441.8L849.1 434.7L849.4 428.0L849.7 453.2L850.0 448.8L850.3 456.7L850.6 460.8L850.9 460.8L851.2 460.8L851.5 460.8L851.8 469.8L852.1 457.0L852.4 453.5L852.7 450.4L853.0 443.3L853.3 447.4L853.6 447.8L853.9 447.8L854.2 436.8L854.5 429.6L854.8 451.5L855.1 455.3L855.4 471.5L855.7 462.3L856.0 466.4L856.3 462.3L856.6 470.7L856.9 485.2L857.2 506.7L857.5 512.3L857.8 494.8L858.1 500.2L858.4 524.2L858.7 505.5L859.0 510.6L859.3 498.8L859.6 498.3L859.9 488.2L860.2 488.2L860.5 479.7L860.8 475.3L861.1 484.9L861.4 506.4L861.7 501.4L862.0 501.4L862.3 507.1L862.6 512.4L862.9 496.1L863.2 512.4L863.5 501.2L863.8 481.2L864.1 481.2L864.4 490.9L864.7 491.5L865.0 486.4L865.3 486.4L865.6 485.8L865.9 476.6L866.2 490.8L866.5 495.4L866.8 485.4L867.1 490.1L867.4 500.4L867.7 495.7L868.0 481.3L868.3 496.5L868.6 496.5L868.9 486.0L869.2 491.4L869.5 491.4L869.8 476.7L870.1 463.1L870.4 475.8L870.7 490.0L871.0 480.5L871.3 500.4L871.6 495.0L871.9 484.4L872.2 479.1L872.5 494.1L872.8 495.0L873.1 475.2L873.4 457.6L873.7 465.7L874.0 461.6L874.3 458.1L874.6 458.1L874.9 470.9L875.2 471.1L875.5 484.7L875.8 500.4L876.1 531.0L876.4 517.8L876.7 530.4L877.0 551.8L877.3 559.9L877.6 568.6L877.9 559.7L878.2 536.0L878.5 529.1L878.8 522.5L879.1 498.9L879.4 504.1L879.7 498.7L880.0 488.2L880.3 474.2L880.6 479.0L880.9 479.0L881.2 479.5L881.5 484.3L881.8 517.4L882.1 499.8L882.4 504.9L882.7 505.8L883.0 511.1L883.3 499.5L883.6 510.9L883.9 522.7L884.2 504.5L884.5 488.5L884.8 499.3L885.1 504.9L885.4 515.8L885.7 498.5L886.0 515.8L886.3 504.0L886.6 498.8L886.9 499.5L887.2 505.1L887.5 488.6L887.8 469.7L888.1 461.7L888.4 458.4L888.7 442.9L889.0 458.4L889.3 447.0L889.6 458.3L889.9 462.7L890.2 475.9L890.5 481.3L890.8 485.4L891.1 506.0L891.4 518.0L891.7 511.8L892.0 510.9L892.3 494.1L892.6 484.3L892.9 454.6L893.2 450.8L893.5 447.6L893.8 443.6L894.1 433.0L894.4 426.3L894.7 423.1L895.0 426.6L895.3 429.5L895.6 457.8L895.9 465.6L896.2 465.6L896.5 469.9L896.8 475.0L897.1 484.6L897.4 494.8L897.7 499.7L898.0 489.1L898.3 479.3L898.6 462.4L898.9 479.6L899.2 474.9L899.5 470.6L899.8 475.1L900.1 471.3L900.4 463.1L900.7 476.4L901.0 481.1L901.3 495.1L901.6 484.9L901.9 458.1L902.2 466.2L902.5 461.9L902.8 466.1L903.1 461.3L903.4 438.2L903.7 428.4L904.0 431.8L904.3 431.8L904.6 461.8L904.9 461.4L905.2 457.3L905.5 461.3L905.8 469.9L906.1 494.6L906.4 499.8L906.7 494.5L907.0 495.0L907.3 485.2L907.6 480.3L907.9 485.2L908.2 489.7L908.5 489.7L908.8 474.7L909.1 474.7L909.4 474.7L909.7 479.0L910.0 488.3L910.3 499.2L910.6 488.6L910.9 494.0L911.2 489.4L911.5 500.0L911.8 499.3L912.1 494.8L912.4 500.2L912.7 494.8L913.0 494.5L913.3 500.4L913.6 495.1L913.9 505.8L914.2 501.1L914.5 507.3L914.8 531.5L915.1 512.2L915.4 496.1L915.7 486.4L916.0 481.7L916.3 467.6L916.6 458.9L916.9 466.7L917.2 462.0L917.5 449.9L917.8 458.1L918.1 462.1L918.4 474.7L918.7 470.4L919.0 489.6L919.3 505.8L919.6 511.7L919.9 517.8L920.2 524.8L920.5 511.8L920.8 523.5L921.1 489.1L921.4 478.6L921.7 465.0L922.0 465.0L922.3 453.3L922.6 449.4L922.9 449.4L923.2 457.3L923.5 453.3L923.8 470.4L924.1 494.6L924.4 500.0L924.7 480.3L925.0 500.0L925.3 517.6L925.6 530.0L925.9 511.8L926.2 506.0L926.5 499.8L926.8 494.5L927.1 489.9L927.4 505.6L927.7 500.4L928.0 489.7L928.3 475.2L928.6 479.1L928.9 494.3L929.2 489.9L929.5 495.1L929.8 489.3L930.1 494.1L930.4 468.6L930.7 477.7L931.0 487.5L931.3 488.1L931.6 478.6L931.9 488.1L932.2 483.1L932.5 493.7L932.8 488.6L933.1 518.4L933.4 491.1L933.7 486.0L934.0 501.1L934.3 495.2L934.6 511.5L934.9 512.1L935.2 505.7L935.5 494.7L935.8 475.5L936.1 484.1L936.4 484.6L936.7 484.6L937.0 494.8L937.3 471.2L937.6 475.4L937.9 475.4L938.2 485.2L938.5 489.3L938.8 489.3L939.1 494.0L939.4 494.0L939.7 494.3L940.0 488.3L940.3 483.8L940.6 494.0L940.9 493.6L941.2 516.4L941.5 520.6L941.8 525.7L942.1 530.9L942.4 536.1L942.7 541.3L943.0 546.5L943.3 551.6L944.0 554.5L952.9 399.4L954.2 412.0L955.6 421.9L955.9 425.9L956.2 428.3L956.5 431.6L956.8 433.4L957.1 436.6L957.4 442.2L957.7 439.8L958.0 442.7L958.3 445.4L958.6 450.2L958.9 450.2L959.2 454.4L959.5 453.8L959.8 457.5L960.1 479.4L960.4 480.0L960.7 470.4L961.0 479.0L961.3 474.9L961.6 479.6L961.9 474.5L962.2 474.5L962.5 474.5L962.8 461.3L963.1 461.3L963.4 479.1L963.7 488.9L964.0 488.9L964.3 488.9L964.6 505.1L964.9 523.3L965.2 530.2L965.5 523.5L965.8 522.7L966.1 504.5L966.4 488.5L966.7 504.0L967.0 504.7L967.3 484.4L967.6 484.4L968.0 479.7L968.3 500.4L968.6 495.0L968.9 506.0L969.2 511.8L969.5 484.6L969.8 488.9L970.1 494.0L970.4 488.8L970.7 488.8L971.0 478.8L971.3 493.8L971.6 483.6L971.9 466.1L972.2 475.7L972.5 466.7L972.8 475.4L973.1 467.1L973.4 458.4L973.7 451.0L974.0 443.9L974.3 447.7L974.6 447.7L974.9 455.0L975.2 463.6L975.5 472.1L975.8 472.1L976.1 472.7L976.4 477.1L976.7 491.2L977.0 476.5L977.3 501.1L977.6 501.4L977.9 496.1L978.2 490.9L978.5 489.3L978.8 499.2L979.1 522.1L979.4 522.3L979.7 551.3L980.0 536.7L980.3 536.3L980.6 535.4L980.9 535.4L981.2 552.3L981.5 552.3L981.8 530.8L982.1 524.3L982.4 537.6L982.7 544.7L983.0 531.3L983.3 524.6L983.6 524.8L983.9 517.8L984.2 506.5L984.5 506.0L984.8 500.0L985.1 489.4L985.4 494.3L985.7 516.4L986.0 543.8L986.3 529.3L986.6 543.6L986.9 558.9L987.2 576.6L987.5 581.8L987.8 582.0L988.1 583.3L988.4 577.8L988.7 577.5L989.0 568.3L989.3 577.8L989.6 577.8L989.9 560.7L990.2 560.7L990.5 552.5L990.8 538.1L991.1 523.9L991.4 518.0L991.7 518.0L992.0 517.8L992.3 523.9L992.6 537.2L992.9 536.7L993.2 523.1L993.5 529.1L993.8 543.3L994.1 542.8L994.4 542.8L994.7 528.6L995.0 521.9L995.3 515.4L995.6 509.4L995.9 515.3L996.2 521.6L996.5 518.4L996.8 514.4L997.1 528.1L997.4 536.5" stroke="#0000ff" stroke-width="1.5"/>
<circle cx="660.3" cy="191.3" r="4.6" fill="#ff0000" stroke="#000" stroke-width="0.7"/><path d="M675.5 162.4L681 171.5L675.5 180.6L670 171.5Z" fill="#ff0000" stroke="#000" stroke-width="0.7"/>
</g>
<rect x="152.5" y="81.5" width="939" height="650" fill="none" stroke="#000" stroke-width="1" shape-rendering="crispEdges"/>
<path d="M269.5 731V725.4M269.5 82V87.6M386.5 731V725.4M386.5 82V87.6M504.5 731V725.4M504.5 82V87.6M621.5 731V725.4M621.5 82V87.6M739.5 731V725.4M739.5 82V87.6M856.5 731V725.4M856.5 82V87.6M973.5 731V725.4M973.5 82V87.6M153 633.5h2.8M1091 633.5h-2.8M153 576.5h2.8M1091 576.5h-2.8M153 535.5h2.8M1091 535.5h-2.8M153 504.5h2.8M1091 504.5h-2.8M153 478.5h2.8M1091 478.5h-2.8M153 456.5h2.8M1091 456.5h-2.8M153 437.5h2.8M1091 437.5h-2.8M153 421.5h2.8M1091 421.5h-2.8M153 406.5h5.6M1091 406.5h-5.6M153 308.5h2.8M1091 308.5h-2.8M153 251.5h2.8M1091 251.5h-2.8M153 210.5h2.8M1091 210.5h-2.8M153 179.5h2.8M1091 179.5h-2.8M153 153.5h2.8M1091 153.5h-2.8M153 132.5h2.8M1091 132.5h-2.8M153 113.5h2.8M1091 113.5h-2.8M153 96.5h2.8M1091 96.5h-2.8" stroke="#000" stroke-width="0.7" fill="none"/>
<text x="151.7" y="749" font-size="16.67" text-anchor="middle">0</text>
<text x="269.1" y="749" font-size="16.67" text-anchor="middle">10</text>
<text x="386.5" y="749" font-size="16.67" text-anchor="middle">20</text>
<text x="503.9" y="749" font-size="16.67" text-anchor="middle">30</text>
<text x="621.4" y="749" font-size="16.67" text-anchor="middle">40</text>
<text x="738.8" y="749" font-size="16.67" text-anchor="middle">50</text>
<text x="856.2" y="749" font-size="16.67" text-anchor="middle">60</text>
<text x="973.6" y="749" font-size="16.67" text-anchor="middle">70</text>
<text x="1091.0" y="749" font-size="16.67" text-anchor="middle">80</text>
<text x="113.2" y="89.0" font-size="16.67">10</text><text x="133.6" y="79.8" font-size="11.67">-2</text>
<text x="113.2" y="414.0" font-size="16.67">10</text><text x="133.6" y="404.8" font-size="11.67">-3</text>
<text x="113.2" y="738.9" font-size="16.67">10</text><text x="133.6" y="729.7" font-size="11.67">-4</text>
<text x="450.4" y="74" font-size="20" textLength="342.2" lengthAdjust="spacing">20041029 Wind/EPACT 28-72 MeV</text>
<text x="427.2" y="774.7" font-size="20.83" textLength="390.5" lengthAdjust="spacing">Hours after 29-10-2004 00:00:19.437</text>
<g transform="translate(95.5 557.5) rotate(-90)" font-size="20.83">
<text x="-2.0" y="0.0" font-size="20.83">Intensity (cm</text>
<text x="156.2" y="0.0" font-size="20.83">s</text>
<text x="189.7" y="0.0" font-size="20.83">sr</text>
<text x="229.2" y="0.0" font-size="20.83">MeV</text>
<text x="296.9" y="0.0" font-size="20.83">)</text>
<text x="134.8" y="-12.6" font-size="9.80">−</text>
<text x="143.2" y="-9.1" font-size="14.58">2</text>
<text x="168.2" y="-12.6" font-size="9.80">−</text>
<text x="175.3" y="-9.1" font-size="14.58">1</text>
<text x="211.9" y="-12.6" font-size="9.80">−</text>
<text x="219.0" y="-9.1" font-size="14.58">1</text>
<text x="278.0" y="-12.6" font-size="9.80">−</text>
<text x="285.5" y="-9.1" font-size="14.58">1</text>
</g>
</svg></body></html>
